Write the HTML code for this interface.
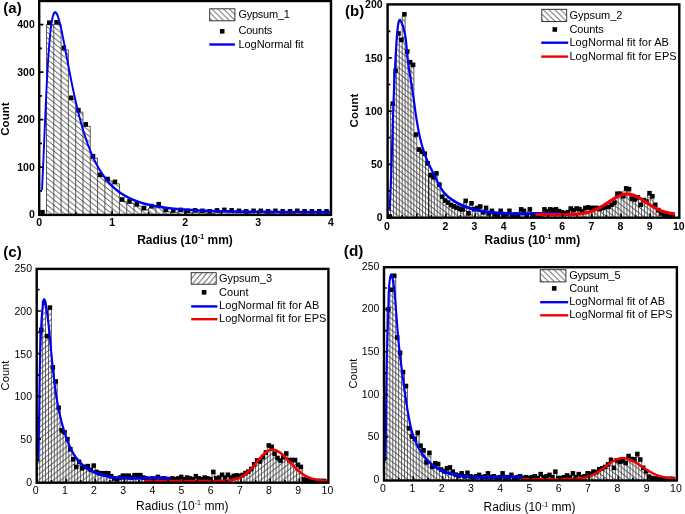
<!DOCTYPE html>
<html><head><meta charset="utf-8"><title>Chart</title>
<style>html,body{margin:0;padding:0;background:#fff;}body{width:685px;height:514px;overflow:hidden;font-family:"Liberation Sans",sans-serif;}svg text{font-family:"Liberation Sans",sans-serif;}</style></head><body>
<svg width="685" height="514" viewBox="0 0 685 514" style="display:block" font-family="Liberation Sans, sans-serif">
<defs>
<pattern id="hA" width="6.75" height="5.4" patternUnits="userSpaceOnUse"><path d="M-6.75 -5.4 L13.5 10.8 M-6.75 0 L6.75 10.8 M0 -5.4 L13.5 5.4" stroke="#222" stroke-width="0.85" fill="none"/></pattern>
<pattern id="hB" width="7.4" height="5.7" patternUnits="userSpaceOnUse"><path d="M-7.4 -5.7 L14.8 11.4 M-7.4 0 L7.4 11.4 M0 -5.7 L14.8 5.7" stroke="#1a1a1a" stroke-width="0.8" fill="none"/></pattern>
<pattern id="hC" width="7.4" height="5.8" patternUnits="userSpaceOnUse"><path d="M-7.4 11.6 L14.8 -5.8 M-7.4 5.8 L7.4 -5.8 M0 11.6 L14.8 0" stroke="#1a1a1a" stroke-width="0.8" fill="none"/></pattern>
<pattern id="lA" width="5.8" height="5.8" patternUnits="userSpaceOnUse"><path d="M-5.8 -5.8 L11.6 11.6 M-5.8 0 L5.8 11.6 M0 -5.8 L11.6 5.8" stroke="#1c1c1c" stroke-width="0.85" fill="none"/></pattern>
<pattern id="lC" width="5.4" height="6.4" patternUnits="userSpaceOnUse"><path d="M-5.4 12.8 L10.8 -6.4 M-5.4 6.4 L5.4 -6.4 M0 12.8 L10.8 0" stroke="#1c1c1c" stroke-width="0.85" fill="none"/></pattern>
</defs>
<rect width="685" height="514" fill="#fff"/>
<path d="M46.50 214.90 L46.50 24.70 L53.79 24.70 L53.79 24.22 L61.09 24.22 L61.09 49.88 L68.38 49.88 L68.38 99.75 L75.68 99.75 L75.68 112.10 L82.97 112.10 L82.97 126.35 L90.27 126.35 L90.27 158.18 L97.56 158.18 L97.56 176.70 L104.86 176.70 L104.86 180.97 L112.15 180.97 L112.15 183.82 L119.45 183.82 L119.45 201.40 L126.74 201.40 L126.74 203.30 L134.04 203.30 L134.04 206.15 L141.33 206.15 L141.33 209.95 L148.62 209.95 L148.62 208.05 L155.92 208.05 L155.92 206.15 L163.22 206.15 L163.22 211.85 L170.51 211.85 L170.51 212.32 L177.81 212.32 L177.81 211.85 L185.10 211.85 L185.10 212.80 L192.40 212.80 L192.40 212.32 L199.69 212.32 L199.69 212.80 L206.99 212.80 L206.99 213.28 L214.28 213.28 L214.28 212.32 L221.57 212.32 L221.57 211.85 L228.87 211.85 L228.87 212.32 L236.17 212.32 L236.17 212.80 L243.46 212.80 L243.46 213.28 L250.76 213.28 L250.76 212.80 L258.05 212.80 L258.05 212.80 L265.35 212.80 L265.35 213.28 L272.64 213.28 L272.64 212.80 L279.94 212.80 L279.94 213.28 L287.23 213.28 L287.23 213.28 L294.53 213.28 L294.53 212.80 L301.82 212.80 L301.82 213.28 L309.12 213.28 L309.12 213.28 L316.41 213.28 L316.41 213.28 L323.71 213.28 L323.71 213.28 L331.00 213.28 L331.00 214.90Z" fill="url(#hA)" stroke="none"/>
<path d="M46.50 214.90 V24.70 M53.79 214.90 V24.22 M61.09 214.90 V24.22 M68.38 214.90 V49.88 M75.68 214.90 V99.75 M82.97 214.90 V112.10 M90.27 214.90 V126.35 M97.56 214.90 V158.18 M104.86 214.90 V176.70 M112.15 214.90 V180.97 M119.45 214.90 V183.82 M126.74 214.90 V201.40 M134.04 214.90 V203.30 M141.33 214.90 V206.15 M148.62 214.90 V208.05 M155.92 214.90 V206.15 M163.22 214.90 V206.15 M170.51 214.90 V211.85 M177.81 214.90 V211.85 M185.10 214.90 V211.85 M192.40 214.90 V212.32 M199.69 214.90 V212.32 M206.99 214.90 V212.80 M214.28 214.90 V212.32 M221.57 214.90 V211.85 M228.87 214.90 V211.85 M236.17 214.90 V212.32 M243.46 214.90 V212.80 M250.76 214.90 V212.80 M258.05 214.90 V212.80 M265.35 214.90 V212.80 M272.64 214.90 V212.80 M279.94 214.90 V212.80 M287.23 214.90 V213.28 M294.53 214.90 V212.80 M301.82 214.90 V212.80 M309.12 214.90 V213.28 M316.41 214.90 V213.28 M323.71 214.90 V213.28 M331.00 214.90 V213.28 M46.50 24.70 H53.79 M53.79 24.22 H61.09 M61.09 49.88 H68.38 M68.38 99.75 H75.68 M75.68 112.10 H82.97 M82.97 126.35 H90.27 M90.27 158.18 H97.56 M97.56 176.70 H104.86 M104.86 180.97 H112.15 M112.15 183.82 H119.45 M119.45 201.40 H126.74 M126.74 203.30 H134.04 M134.04 206.15 H141.33 M141.33 209.95 H148.62 M148.62 208.05 H155.92 M155.92 206.15 H163.22 M163.22 211.85 H170.51 M170.51 212.32 H177.81 M177.81 211.85 H185.10 M185.10 212.80 H192.40 M192.40 212.32 H199.69 M199.69 212.80 H206.99 M206.99 213.28 H214.28 M214.28 212.32 H221.57 M221.57 211.85 H228.87 M228.87 212.32 H236.17 M236.17 212.80 H243.46 M243.46 213.28 H250.76 M250.76 212.80 H258.05 M258.05 212.80 H265.35 M265.35 213.28 H272.64 M272.64 212.80 H279.94 M279.94 213.28 H287.23 M287.23 213.28 H294.53 M294.53 212.80 H301.82 M301.82 213.28 H309.12 M309.12 213.28 H316.41 M316.41 213.28 H323.71 M323.71 213.28 H331.00" fill="none" stroke="#333" stroke-width="0.80"/>
<g fill="#000"><rect x="40.23" y="209.97" width="4.5" height="4.5"/><rect x="47.02" y="20.45" width="4.5" height="4.5"/><rect x="54.31" y="19.97" width="4.5" height="4.5"/><rect x="61.61" y="45.62" width="4.5" height="4.5"/><rect x="68.90" y="95.50" width="4.5" height="4.5"/><rect x="76.20" y="107.85" width="4.5" height="4.5"/><rect x="83.49" y="122.10" width="4.5" height="4.5"/><rect x="90.79" y="153.93" width="4.5" height="4.5"/><rect x="98.08" y="172.45" width="4.5" height="4.5"/><rect x="105.38" y="176.72" width="4.5" height="4.5"/><rect x="112.67" y="179.57" width="4.5" height="4.5"/><rect x="119.97" y="197.15" width="4.5" height="4.5"/><rect x="127.26" y="199.05" width="4.5" height="4.5"/><rect x="134.56" y="201.90" width="4.5" height="4.5"/><rect x="141.85" y="205.70" width="4.5" height="4.5"/><rect x="149.15" y="203.80" width="4.5" height="4.5"/><rect x="156.44" y="201.90" width="4.5" height="4.5"/><rect x="163.74" y="207.60" width="4.5" height="4.5"/><rect x="171.03" y="208.07" width="4.5" height="4.5"/><rect x="178.33" y="207.60" width="4.5" height="4.5"/><rect x="185.62" y="208.55" width="4.5" height="4.5"/><rect x="192.92" y="208.07" width="4.5" height="4.5"/><rect x="200.21" y="208.55" width="4.5" height="4.5"/><rect x="207.51" y="209.03" width="4.5" height="4.5"/><rect x="214.80" y="208.07" width="4.5" height="4.5"/><rect x="222.10" y="207.60" width="4.5" height="4.5"/><rect x="229.39" y="208.07" width="4.5" height="4.5"/><rect x="236.69" y="208.55" width="4.5" height="4.5"/><rect x="243.98" y="209.03" width="4.5" height="4.5"/><rect x="251.28" y="208.55" width="4.5" height="4.5"/><rect x="258.57" y="208.55" width="4.5" height="4.5"/><rect x="265.87" y="209.03" width="4.5" height="4.5"/><rect x="273.16" y="208.55" width="4.5" height="4.5"/><rect x="280.46" y="209.03" width="4.5" height="4.5"/><rect x="287.75" y="209.03" width="4.5" height="4.5"/><rect x="295.05" y="208.55" width="4.5" height="4.5"/><rect x="302.34" y="209.03" width="4.5" height="4.5"/><rect x="309.64" y="209.03" width="4.5" height="4.5"/><rect x="316.93" y="209.03" width="4.5" height="4.5"/><rect x="324.23" y="209.03" width="4.5" height="4.5"/></g>
<g transform="scale(1,1.3500)"><path d="M41.97 140.586 L42.33 135.612 L42.69 130.175 L43.05 124.375 L43.41 118.309 L43.77 112.069 L44.14 105.738 L44.50 99.387 L44.86 93.082 L45.22 86.876 L45.58 80.816 L45.94 74.938 L46.30 69.274 L46.67 63.846 L47.03 58.673 L47.39 53.768 L47.75 49.140 L48.11 44.793 L48.47 40.729 L48.84 36.949 L49.20 33.448 L49.56 30.222 L49.92 27.265 L50.28 24.570 L50.64 22.129 L51.00 19.933 L51.37 17.972 L51.73 16.237 L52.09 14.719 L52.45 13.406 L52.81 12.290 L53.17 11.360 L53.54 10.607 L53.90 10.020 L54.26 9.592 L54.62 9.312 L54.98 9.172 L55.34 9.164 L55.70 9.279 L56.07 9.509 L56.43 9.847 L56.79 10.286 L57.15 10.818 L57.51 11.438 L57.87 12.138 L58.24 12.914 L58.60 13.759 L58.96 14.668 L59.32 15.636 L59.68 16.657 L60.04 17.729 L60.40 18.845 L60.77 20.003 L61.13 21.198 L61.49 22.426 L61.85 23.685 L62.21 24.971 L62.57 26.280 L62.94 27.611 L63.30 28.961 L63.66 30.326 L64.02 31.706 L64.38 33.096 L64.74 34.496 L65.11 35.904 L65.47 37.318 L65.83 38.735 L66.19 40.155 L66.55 41.576 L66.91 42.996 L67.27 44.415 L67.64 45.832 L68.00 47.244 L68.36 48.652 L68.72 50.053 L69.08 51.448 L69.44 52.836 L69.81 54.215 L70.17 55.586 L70.53 56.947 L70.89 58.298 L71.25 59.639 L71.61 60.968 L71.97 62.286 L72.34 63.593 L72.70 64.887 L73.06 66.168 L73.42 67.437 L73.78 68.693 L74.14 69.935 L74.51 71.164 L74.87 72.380 L75.23 73.582 L75.59 74.770 L75.95 75.944 L76.31 77.104 L76.67 78.250 L77.04 79.382 L77.40 80.499 L77.76 81.603 L78.12 82.693 L78.48 83.768 L78.84 84.829 L79.21 85.877 L79.57 86.910 L79.93 87.929 L80.29 88.935 L80.65 89.927 L81.01 90.905 L81.38 91.869 L81.74 92.820 L82.10 93.758 L82.46 94.682 L82.82 95.593 L83.18 96.491 L83.54 97.376 L83.91 98.248 L84.27 99.108 L84.63 99.955 L84.99 100.790 L85.35 101.612 L85.71 102.422 L86.08 103.221 L86.44 104.007 L86.80 104.782 L87.16 105.545 L87.52 106.296 L87.88 107.037 L88.24 107.766 L88.61 108.484 L88.97 109.191 L89.33 109.888 L89.69 110.574 L90.05 111.250 L90.41 111.915 L90.78 112.570 L91.14 113.215 L91.50 113.851 L91.86 114.476 L92.22 115.092 L92.58 115.699 L92.94 116.296 L93.31 116.884 L93.67 117.463 L94.03 118.033 L94.39 118.595 L94.75 119.147 L95.11 119.692 L95.48 120.227 L95.84 120.755 L96.20 121.274 L96.56 121.786 L96.92 122.289 L97.28 122.785 L97.65 123.273 L98.01 123.754 L98.37 124.227 L98.73 124.693 L99.09 125.152 L99.45 125.604 L99.81 126.049 L100.18 126.487 L100.54 126.918 L100.90 127.342 L101.26 127.760 L101.62 128.172 L101.98 128.577 L102.35 128.976 L102.71 129.369 L103.07 129.756 L103.43 130.137 L103.79 130.513 L104.15 130.882 L104.51 131.246 L104.88 131.604 L105.24 131.957 L105.60 132.304 L105.96 132.647 L106.32 132.984 L106.68 133.315 L107.05 133.642 L107.41 133.964 L107.77 134.281 L108.13 134.593 L108.49 134.901 L108.85 135.203 L109.21 135.502 L109.58 135.795 L109.94 136.085 L110.30 136.370 L110.66 136.650 L111.02 136.927 L111.38 137.199 L111.75 137.467 L112.11 137.732 L112.47 137.992 L112.83 138.248 L113.19 138.501 L113.55 138.750 L113.92 138.995 L114.28 139.236 L114.64 139.474 L115.00 139.709 L115.36 139.940 L115.72 140.167 L116.08 140.391 L116.45 140.612 L116.81 140.830 L117.17 141.044 L117.53 141.256 L117.89 141.464 L118.25 141.669 L118.62 141.871 L118.98 142.070 L119.34 142.266 L119.70 142.460 L120.06 142.650 L120.42 142.838 L120.78 143.023 L121.15 143.206 L121.51 143.386 L121.87 143.563 L122.23 143.737 L122.59 143.910 L122.95 144.079 L123.32 144.246 L123.68 144.411 L124.04 144.574 L124.40 144.734 L124.76 144.892 L125.12 145.047 L125.48 145.201 L125.85 145.352 L126.21 145.501 L126.57 145.648 L126.93 145.793 L127.29 145.936 L127.65 146.076 L128.02 146.215 L128.38 146.352 L128.74 146.487 L129.10 146.620 L129.46 146.751 L129.82 146.881 L130.18 147.008 L130.55 147.134 L130.91 147.258 L131.27 147.380 L131.63 147.501 L131.99 147.620 L132.35 147.737 L132.72 147.853 L133.08 147.967 L133.44 148.080 L133.80 148.190 L134.16 148.300 L134.52 148.408 L134.89 148.514 L135.25 148.619 L135.61 148.723 L135.97 148.825 L136.33 148.926 L136.69 149.025 L137.05 149.123 L137.42 149.220 L137.78 149.315 L138.14 149.410 L138.50 149.502 L138.86 149.594 L139.22 149.684 L139.59 149.773 L139.95 149.861 L140.31 149.948 L140.67 150.034 L141.03 150.118 L141.39 150.202 L141.75 150.284 L142.12 150.365 L142.48 150.445 L142.84 150.524 L143.20 150.602 L143.56 150.679 L143.92 150.755 L144.29 150.830 L144.65 150.904 L145.01 150.977 L145.37 151.049 L145.73 151.120 L146.09 151.190 L146.45 151.259 L146.82 151.328 L147.18 151.395 L147.54 151.462 L147.90 151.527 L148.26 151.592 L148.62 151.656 L148.99 151.719 L149.35 151.782 L149.71 151.843 L150.07 151.904 L150.43 151.964 L150.79 152.023 L151.16 152.082 L151.52 152.140 L151.88 152.196 L152.24 152.253 L152.60 152.308 L152.96 152.363 L153.32 152.417 L153.69 152.471 L154.05 152.524 L154.41 152.576 L154.77 152.627 L155.13 152.678 L155.49 152.728 L155.86 152.778 L156.22 152.827 L156.58 152.875 L156.94 152.923 L157.30 152.970 L157.66 153.016 L158.02 153.062 L158.39 153.107 L158.75 153.152 L159.11 153.197 L159.47 153.240 L159.83 153.283 L160.19 153.326 L160.56 153.368 L160.92 153.410 L161.28 153.451 L161.64 153.491 L162.00 153.531 L162.36 153.571 L162.72 153.610 L163.09 153.649 L163.45 153.687 L163.81 153.725 L164.17 153.762 L164.53 153.799 L164.89 153.835 L165.26 153.871 L165.62 153.906 L165.98 153.941 L166.34 153.976 L166.70 154.010 L167.06 154.044 L167.43 154.077 L167.79 154.110 L168.15 154.143 L168.51 154.175 L168.87 154.207 L169.23 154.238 L169.59 154.269 L169.96 154.300 L170.32 154.331 L170.68 154.360 L171.04 154.390 L171.40 154.419 L171.76 154.448 L172.13 154.477 L172.49 154.505 L172.85 154.533 L173.21 154.561 L173.57 154.588 L173.93 154.615 L174.29 154.642 L174.66 154.668 L175.02 154.694 L175.38 154.720 L175.74 154.745 L176.10 154.770 L176.46 154.795 L176.83 154.820 L177.19 154.844 L177.55 154.868 L177.91 154.891 L178.27 154.915 L178.63 154.938 L178.99 154.961 L179.36 154.984 L179.72 155.006 L180.08 155.028 L180.44 155.050 L180.80 155.072 L181.16 155.093 L181.53 155.114 L181.89 155.135 L182.25 155.156 L182.61 155.176 L182.97 155.196 L183.33 155.216 L183.70 155.236 L184.06 155.256 L184.42 155.275 L184.78 155.294 L185.14 155.313 L185.50 155.331 L185.86 155.350 L186.23 155.368 L186.59 155.386 L186.95 155.404 L187.31 155.422 L187.67 155.439 L188.03 155.456 L188.40 155.473 L188.76 155.490 L189.12 155.507 L189.48 155.523 L189.84 155.540 L190.20 155.556 L190.56 155.572 L190.93 155.588 L191.29 155.603 L191.65 155.619 L192.01 155.634 L192.37 155.649 L192.73 155.664 L193.10 155.679 L193.46 155.694 L193.82 155.708 L194.18 155.722 L194.54 155.736 L194.90 155.750 L195.26 155.764 L195.63 155.778 L195.99 155.792 L196.35 155.805 L196.71 155.818 L197.07 155.831 L197.43 155.844 L197.80 155.857 L198.16 155.870 L198.52 155.882 L198.88 155.895 L199.24 155.907 L199.60 155.919 L199.97 155.931 L200.33 155.943 L200.69 155.955 L201.05 155.967 L201.41 155.978 L201.77 155.990 L202.13 156.001 L202.50 156.012 L202.86 156.023 L203.22 156.034 L203.58 156.045 L203.94 156.056 L204.30 156.066 L204.67 156.077 L205.03 156.087 L205.39 156.098 L205.75 156.108 L206.11 156.118 L206.47 156.128 L206.83 156.138 L207.20 156.147 L207.56 156.157 L207.92 156.167 L208.28 156.176 L208.64 156.185 L209.00 156.195 L209.37 156.204 L209.73 156.213 L210.09 156.222 L210.45 156.231 L210.81 156.239 L211.17 156.248 L211.53 156.257 L211.90 156.265 L212.26 156.274 L212.62 156.282 L212.98 156.290 L213.34 156.299 L213.70 156.307 L214.07 156.315 L214.43 156.323 L214.79 156.331 L215.15 156.338 L215.51 156.346 L215.87 156.354 L216.23 156.361 L216.60 156.369 L216.96 156.376 L217.32 156.383 L217.68 156.391 L218.04 156.398 L218.40 156.405 L218.77 156.412 L219.13 156.419 L219.49 156.426 L219.85 156.433 L220.21 156.439 L220.57 156.446 L220.94 156.453 L221.30 156.459 L221.66 156.466 L222.02 156.472 L222.38 156.479 L222.74 156.485 L223.10 156.491 L223.47 156.497 L223.83 156.503 L224.19 156.510 L224.55 156.516 L224.91 156.521 L225.27 156.527 L225.64 156.533 L226.00 156.539 L226.36 156.545 L226.72 156.550 L227.08 156.556 L227.44 156.562 L227.80 156.567 L228.17 156.572 L228.53 156.578 L228.89 156.583 L229.25 156.588 L229.61 156.594 L229.97 156.599 L230.34 156.604 L230.70 156.609 L231.06 156.614 L231.42 156.619 L231.78 156.624 L232.14 156.629 L232.50 156.634 L232.87 156.639 L233.23 156.643 L233.59 156.648 L233.95 156.653 L234.31 156.657 L234.67 156.662 L235.04 156.667 L235.40 156.671 L235.76 156.676 L236.12 156.680 L236.48 156.684 L236.84 156.689 L237.21 156.693 L237.57 156.697 L237.93 156.701 L238.29 156.706 L238.65 156.710 L239.01 156.714 L239.37 156.718 L239.74 156.722 L240.10 156.726 L240.46 156.730 L240.82 156.734 L241.18 156.738 L241.54 156.741 L241.91 156.745 L242.27 156.749 L242.63 156.753 L242.99 156.756 L243.35 156.760 L243.71 156.764 L244.07 156.767 L244.44 156.771 L244.80 156.774 L245.16 156.778 L245.52 156.781 L245.88 156.785 L246.24 156.788 L246.61 156.791 L246.97 156.795 L247.33 156.798 L247.69 156.801 L248.05 156.805 L248.41 156.808 L248.77 156.811 L249.14 156.814 L249.50 156.817 L249.86 156.820 L250.22 156.823 L250.58 156.826 L250.94 156.829 L251.31 156.832 L251.67 156.835 L252.03 156.838 L252.39 156.841 L252.75 156.844 L253.11 156.847 L253.48 156.850 L253.84 156.853 L254.20 156.855 L254.56 156.858 L254.92 156.861 L255.28 156.864 L255.64 156.866 L256.01 156.869 L256.37 156.872 L256.73 156.874 L257.09 156.877 L257.45 156.879 L257.81 156.882 L258.18 156.884 L258.54 156.887 L258.90 156.889 L259.26 156.892 L259.62 156.894 L259.98 156.897 L260.34 156.899 L260.71 156.901 L261.07 156.904 L261.43 156.906 L261.79 156.908 L262.15 156.911 L262.51 156.913 L262.88 156.915 L263.24 156.918 L263.60 156.920 L263.96 156.922 L264.32 156.924 L264.68 156.926 L265.04 156.928 L265.41 156.930 L265.77 156.933 L266.13 156.935 L266.49 156.937 L266.85 156.939 L267.21 156.941 L267.58 156.943 L267.94 156.945 L268.30 156.947 L268.66 156.949 L269.02 156.951 L269.38 156.953 L269.75 156.954 L270.11 156.956 L270.47 156.958 L270.83 156.960 L271.19 156.962 L271.55 156.964 L271.91 156.966 L272.28 156.967 L272.64 156.969 L273.00 156.971 L273.36 156.973 L273.72 156.974 L274.08 156.976 L274.45 156.978 L274.81 156.980 L275.17 156.981 L275.53 156.983 L275.89 156.985 L276.25 156.986 L276.61 156.988 L276.98 156.989 L277.34 156.991 L277.70 156.993 L278.06 156.994 L278.42 156.996 L278.78 156.997 L279.15 156.999 L279.51 157.000 L279.87 157.002 L280.23 157.003 L280.59 157.005 L280.95 157.006 L281.31 157.008 L281.68 157.009 L282.04 157.011 L282.40 157.012 L282.76 157.013 L283.12 157.015 L283.48 157.016 L283.85 157.018 L284.21 157.019 L284.57 157.020 L284.93 157.022 L285.29 157.023 L285.65 157.024 L286.01 157.026 L286.38 157.027 L286.74 157.028 L287.10 157.029 L287.46 157.031 L287.82 157.032 L288.18 157.033 L288.55 157.034 L288.91 157.036 L289.27 157.037 L289.63 157.038 L289.99 157.039 L290.35 157.040 L290.72 157.042 L291.08 157.043 L291.44 157.044 L291.80 157.045 L292.16 157.046 L292.52 157.047 L292.88 157.048 L293.25 157.050 L293.61 157.051 L293.97 157.052 L294.33 157.053 L294.69 157.054 L295.05 157.055 L295.42 157.056 L295.78 157.057 L296.14 157.058 L296.50 157.059 L296.86 157.060 L297.22 157.061 L297.58 157.062 L297.95 157.063 L298.31 157.064 L298.67 157.065 L299.03 157.066 L299.39 157.067 L299.75 157.068 L300.12 157.069 L300.48 157.070 L300.84 157.071 L301.20 157.072 L301.56 157.073 L301.92 157.074 L302.28 157.075 L302.65 157.076 L303.01 157.076 L303.37 157.077 L303.73 157.078 L304.09 157.079 L304.45 157.080 L304.82 157.081 L305.18 157.082 L305.54 157.082 L305.90 157.083 L306.26 157.084 L306.62 157.085 L306.99 157.086 L307.35 157.087 L307.71 157.087 L308.07 157.088 L308.43 157.089 L308.79 157.090 L309.15 157.091 L309.52 157.091 L309.88 157.092 L310.24 157.093 L310.60 157.094 L310.96 157.094 L311.32 157.095 L311.69 157.096 L312.05 157.097 L312.41 157.097 L312.77 157.098 L313.13 157.099 L313.49 157.100 L313.85 157.100 L314.22 157.101 L314.58 157.102 L314.94 157.102 L315.30 157.103 L315.66 157.104 L316.02 157.104 L316.39 157.105 L316.75 157.106 L317.11 157.106 L317.47 157.107 L317.83 157.108 L318.19 157.108 L318.55 157.109 L318.92 157.110 L319.28 157.110 L319.64 157.111 L320.00 157.112 L320.36 157.112 L320.72 157.113 L321.09 157.113 L321.45 157.114 L321.81 157.115 L322.17 157.115 L322.53 157.116 L322.89 157.116 L323.26 157.117 L323.62 157.117 L323.98 157.118 L324.34 157.119 L324.70 157.119 L325.06 157.120 L325.42 157.120 L325.79 157.121 L326.15 157.121 L326.51 157.122 L326.87 157.122 L327.23 157.123 L327.59 157.124 L327.96 157.124 L328.32 157.125 L328.68 157.125 L329.04 157.126 L329.40 157.126 L329.76 157.127 L330.12 157.127" fill="none" stroke="#0000f0" stroke-width="1.90" stroke-linejoin="round"/></g>
<rect x="39.20" y="1.00" width="291.80" height="213.90" fill="none" stroke="#000" stroke-width="2.4"/>
<path d="M112.15 214.90 v-4.2 M185.10 214.90 v-4.2 M258.05 214.90 v-4.2 M75.68 214.90 v-2.8 M148.62 214.90 v-2.8 M221.57 214.90 v-2.8 M294.53 214.90 v-2.8 M39.20 167.10 h4.2 M39.20 119.60 h4.2 M39.20 72.10 h4.2 M39.20 24.60 h4.2 M39.20 190.85 h2.8 M39.20 143.35 h2.8 M39.20 95.85 h2.8 M39.20 48.35 h2.8" stroke="#000" stroke-width="1.7" fill="none"/>
<path d="M387.60 217.70 L387.60 217.18 L390.52 217.18 L390.52 105.65 L393.44 105.65 L393.44 72.67 L396.35 72.67 L396.35 35.43 L399.27 35.43 L399.27 41.81 L402.19 41.81 L402.19 16.28 L405.11 16.28 L405.11 53.52 L408.03 53.52 L408.03 64.16 L410.94 64.16 L410.94 66.82 L413.86 66.82 L413.86 136.51 L416.78 136.51 L416.78 151.40 L419.70 151.40 L419.70 153.53 L422.62 153.53 L422.62 155.66 L425.53 155.66 L425.53 165.24 L428.45 165.24 L428.45 176.94 L431.37 176.94 L431.37 179.07 L434.29 179.07 L434.29 175.34 L437.21 175.34 L437.21 186.52 L440.12 186.52 L440.12 198.65 L443.04 198.65 L443.04 202.48 L445.96 202.48 L445.96 204.50 L448.88 204.50 L448.88 206.94 L451.80 206.94 L451.80 208.33 L454.71 208.33 L454.71 209.60 L457.63 209.60 L457.63 210.67 L460.55 210.67 L460.55 211.52 L463.47 211.52 L463.47 202.80 L466.39 202.80 L466.39 215.24 L469.30 215.24 L469.30 205.24 L472.22 205.24 L472.22 210.99 L475.14 210.99 L475.14 209.92 L478.06 209.92 L478.06 208.43 L480.98 208.43 L480.98 214.18 L483.89 214.18 L483.89 209.82 L486.81 209.82 L486.81 215.24 L489.73 215.24 L489.73 212.80 L492.65 212.80 L492.65 216.31 L495.57 216.31 L495.57 217.18 L498.48 217.18 L498.48 212.80 L501.40 212.80 L501.40 217.18 L504.32 217.18 L504.32 216.31 L507.24 216.31 L507.24 212.80 L510.16 212.80 L510.16 217.18 L513.07 217.18 L513.07 216.31 L515.99 216.31 L515.99 217.18 L518.91 217.18 L518.91 211.31 L521.83 211.31 L521.83 212.80 L524.75 212.80 L524.75 217.18 L527.66 217.18 L527.66 211.31 L530.58 211.31 L530.58 217.18 L533.50 217.18 L533.50 216.31 L536.42 216.31 L536.42 217.18 L539.34 217.18 L539.34 216.31 L542.25 216.31 L542.25 211.31 L545.17 211.31 L545.17 213.12 L548.09 213.12 L548.09 211.31 L551.01 211.31 L551.01 212.05 L553.93 212.05 L553.93 211.31 L556.84 211.31 L556.84 213.12 L559.76 213.12 L559.76 214.18 L562.68 214.18 L562.68 215.24 L565.60 215.24 L565.60 214.18 L568.52 214.18 L568.52 210.46 L571.43 210.46 L571.43 212.05 L574.35 212.05 L574.35 210.46 L577.27 210.46 L577.27 210.99 L580.19 210.99 L580.19 213.12 L583.11 213.12 L583.11 209.92 L586.02 209.92 L586.02 209.39 L588.94 209.39 L588.94 209.92 L591.86 209.92 L591.86 209.92 L594.78 209.92 L594.78 209.92 L597.70 209.92 L597.70 210.99 L600.61 210.99 L600.61 209.92 L603.53 209.92 L603.53 208.86 L606.45 208.86 L606.45 208.86 L609.37 208.86 L609.37 206.73 L612.29 206.73 L612.29 204.60 L615.20 204.60 L615.20 195.67 L618.12 195.67 L618.12 195.67 L621.04 195.67 L621.04 198.22 L623.96 198.22 L623.96 190.35 L626.88 190.35 L626.88 191.09 L629.79 191.09 L629.79 200.56 L632.71 200.56 L632.71 201.31 L635.63 201.31 L635.63 199.28 L638.55 199.28 L638.55 206.73 L641.47 206.73 L641.47 202.05 L644.38 202.05 L644.38 203.54 L647.30 203.54 L647.30 195.13 L650.22 195.13 L650.22 198.22 L653.14 198.22 L653.14 206.73 L656.06 206.73 L656.06 212.05 L658.97 212.05 L658.97 215.24 L661.89 215.24 L661.89 217.18 L664.81 217.18 L664.81 217.18 L667.73 217.18 L667.73 217.18 L670.65 217.18 L670.65 217.18 L673.56 217.18 L673.56 217.70Z" fill="url(#hB)" stroke="none"/>
<path d="M387.60 217.70 V217.18 M390.52 217.70 V105.65 M393.44 217.70 V72.67 M396.35 217.70 V35.43 M399.27 217.70 V35.43 M402.19 217.70 V16.28 M405.11 217.70 V16.28 M408.03 217.70 V53.52 M410.94 217.70 V64.16 M413.86 217.70 V66.82 M416.78 217.70 V136.51 M419.70 217.70 V151.40 M422.62 217.70 V153.53 M425.53 217.70 V155.66 M428.45 217.70 V165.24 M431.37 217.70 V176.94 M434.29 217.70 V175.34 M437.21 217.70 V175.34 M440.12 217.70 V186.52 M443.04 217.70 V198.65 M445.96 217.70 V202.48 M448.88 217.70 V204.50 M451.80 217.70 V206.94 M454.71 217.70 V208.33 M457.63 217.70 V209.60 M460.55 217.70 V210.67 M463.47 217.70 V202.80 M466.39 217.70 V202.80 M469.30 217.70 V205.24 M472.22 217.70 V205.24 M475.14 217.70 V209.92 M478.06 217.70 V208.43 M480.98 217.70 V208.43 M483.89 217.70 V209.82 M486.81 217.70 V209.82 M489.73 217.70 V212.80 M492.65 217.70 V212.80 M495.57 217.70 V216.31 M498.48 217.70 V212.80 M501.40 217.70 V212.80 M504.32 217.70 V216.31 M507.24 217.70 V212.80 M510.16 217.70 V212.80 M513.07 217.70 V216.31 M515.99 217.70 V216.31 M518.91 217.70 V211.31 M521.83 217.70 V211.31 M524.75 217.70 V212.80 M527.66 217.70 V211.31 M530.58 217.70 V211.31 M533.50 217.70 V216.31 M536.42 217.70 V216.31 M539.34 217.70 V216.31 M542.25 217.70 V211.31 M545.17 217.70 V211.31 M548.09 217.70 V211.31 M551.01 217.70 V211.31 M553.93 217.70 V211.31 M556.84 217.70 V211.31 M559.76 217.70 V213.12 M562.68 217.70 V214.18 M565.60 217.70 V214.18 M568.52 217.70 V210.46 M571.43 217.70 V210.46 M574.35 217.70 V210.46 M577.27 217.70 V210.46 M580.19 217.70 V210.99 M583.11 217.70 V209.92 M586.02 217.70 V209.39 M588.94 217.70 V209.39 M591.86 217.70 V209.92 M594.78 217.70 V209.92 M597.70 217.70 V209.92 M600.61 217.70 V209.92 M603.53 217.70 V208.86 M606.45 217.70 V208.86 M609.37 217.70 V206.73 M612.29 217.70 V204.60 M615.20 217.70 V195.67 M618.12 217.70 V195.67 M621.04 217.70 V195.67 M623.96 217.70 V190.35 M626.88 217.70 V190.35 M629.79 217.70 V191.09 M632.71 217.70 V200.56 M635.63 217.70 V199.28 M638.55 217.70 V199.28 M641.47 217.70 V202.05 M644.38 217.70 V202.05 M647.30 217.70 V195.13 M650.22 217.70 V195.13 M653.14 217.70 V198.22 M656.06 217.70 V206.73 M658.97 217.70 V212.05 M661.89 217.70 V215.24 M664.81 217.70 V217.18 M667.73 217.70 V217.18 M670.65 217.70 V217.18 M673.56 217.70 V217.18 M387.60 217.18 H390.52 M390.52 105.65 H393.44 M393.44 72.67 H396.35 M396.35 35.43 H399.27 M399.27 41.81 H402.19 M402.19 16.28 H405.11 M405.11 53.52 H408.03 M408.03 64.16 H410.94 M410.94 66.82 H413.86 M413.86 136.51 H416.78 M416.78 151.40 H419.70 M419.70 153.53 H422.62 M422.62 155.66 H425.53 M425.53 165.24 H428.45 M428.45 176.94 H431.37 M431.37 179.07 H434.29 M434.29 175.34 H437.21 M437.21 186.52 H440.12 M440.12 198.65 H443.04 M443.04 202.48 H445.96 M445.96 204.50 H448.88 M448.88 206.94 H451.80 M451.80 208.33 H454.71 M454.71 209.60 H457.63 M457.63 210.67 H460.55 M460.55 211.52 H463.47 M463.47 202.80 H466.39 M466.39 215.24 H469.30 M469.30 205.24 H472.22 M472.22 210.99 H475.14 M475.14 209.92 H478.06 M478.06 208.43 H480.98 M480.98 214.18 H483.89 M483.89 209.82 H486.81 M486.81 215.24 H489.73 M489.73 212.80 H492.65 M492.65 216.31 H495.57 M495.57 217.18 H498.48 M498.48 212.80 H501.40 M501.40 217.18 H504.32 M504.32 216.31 H507.24 M507.24 212.80 H510.16 M510.16 217.18 H513.07 M513.07 216.31 H515.99 M515.99 217.18 H518.91 M518.91 211.31 H521.83 M521.83 212.80 H524.75 M524.75 217.18 H527.66 M527.66 211.31 H530.58 M530.58 217.18 H533.50 M533.50 216.31 H536.42 M536.42 217.18 H539.34 M539.34 216.31 H542.25 M542.25 211.31 H545.17 M545.17 213.12 H548.09 M548.09 211.31 H551.01 M551.01 212.05 H553.93 M553.93 211.31 H556.84 M556.84 213.12 H559.76 M559.76 214.18 H562.68 M562.68 215.24 H565.60 M565.60 214.18 H568.52 M568.52 210.46 H571.43 M571.43 212.05 H574.35 M574.35 210.46 H577.27 M577.27 210.99 H580.19 M580.19 213.12 H583.11 M583.11 209.92 H586.02 M586.02 209.39 H588.94 M588.94 209.92 H591.86 M591.86 209.92 H594.78 M594.78 209.92 H597.70 M597.70 210.99 H600.61 M600.61 209.92 H603.53 M603.53 208.86 H606.45 M606.45 208.86 H609.37 M609.37 206.73 H612.29 M612.29 204.60 H615.20 M615.20 195.67 H618.12 M618.12 195.67 H621.04 M621.04 198.22 H623.96 M623.96 190.35 H626.88 M626.88 191.09 H629.79 M629.79 200.56 H632.71 M632.71 201.31 H635.63 M635.63 199.28 H638.55 M638.55 206.73 H641.47 M641.47 202.05 H644.38 M644.38 203.54 H647.30 M647.30 195.13 H650.22 M650.22 198.22 H653.14 M653.14 206.73 H656.06 M656.06 212.05 H658.97 M658.97 215.24 H661.89 M661.89 217.18 H664.81 M664.81 217.18 H667.73 M667.73 217.18 H670.65 M670.65 217.18 H673.56" fill="none" stroke="#333" stroke-width="0.78"/>
<path d="M428.8 174.5 V217" stroke="#111" stroke-width="1.1" fill="none"/>
<g fill="#000"><rect x="387.54" y="214.19" width="4.5" height="4.5"/><rect x="390.46" y="101.40" width="4.5" height="4.5"/><rect x="393.37" y="68.42" width="4.5" height="4.5"/><rect x="396.29" y="31.18" width="4.5" height="4.5"/><rect x="399.21" y="37.56" width="4.5" height="4.5"/><rect x="402.13" y="12.03" width="4.5" height="4.5"/><rect x="405.05" y="49.27" width="4.5" height="4.5"/><rect x="407.96" y="59.91" width="4.5" height="4.5"/><rect x="410.88" y="62.57" width="4.5" height="4.5"/><rect x="413.80" y="132.26" width="4.5" height="4.5"/><rect x="416.72" y="147.15" width="4.5" height="4.5"/><rect x="419.64" y="149.28" width="4.5" height="4.5"/><rect x="422.55" y="151.41" width="4.5" height="4.5"/><rect x="425.47" y="160.99" width="4.5" height="4.5"/><rect x="428.39" y="172.69" width="4.5" height="4.5"/><rect x="431.31" y="174.82" width="4.5" height="4.5"/><rect x="434.23" y="171.09" width="4.5" height="4.5"/><rect x="437.14" y="182.27" width="4.5" height="4.5"/><rect x="440.06" y="194.40" width="4.5" height="4.5"/><rect x="442.98" y="198.23" width="4.5" height="4.5"/><rect x="445.90" y="200.25" width="4.5" height="4.5"/><rect x="448.82" y="202.69" width="4.5" height="4.5"/><rect x="451.73" y="204.08" width="4.5" height="4.5"/><rect x="454.65" y="205.35" width="4.5" height="4.5"/><rect x="457.57" y="206.42" width="4.5" height="4.5"/><rect x="460.49" y="207.27" width="4.5" height="4.5"/><rect x="463.41" y="198.55" width="4.5" height="4.5"/><rect x="466.32" y="210.99" width="4.5" height="4.5"/><rect x="469.24" y="200.99" width="4.5" height="4.5"/><rect x="472.16" y="206.74" width="4.5" height="4.5"/><rect x="475.08" y="205.67" width="4.5" height="4.5"/><rect x="478.00" y="204.18" width="4.5" height="4.5"/><rect x="480.91" y="209.93" width="4.5" height="4.5"/><rect x="483.83" y="205.57" width="4.5" height="4.5"/><rect x="486.75" y="210.99" width="4.5" height="4.5"/><rect x="489.67" y="208.55" width="4.5" height="4.5"/><rect x="492.59" y="212.06" width="4.5" height="4.5"/><rect x="495.50" y="213.12" width="4.5" height="4.5"/><rect x="498.42" y="208.55" width="4.5" height="4.5"/><rect x="501.34" y="213.12" width="4.5" height="4.5"/><rect x="504.26" y="212.06" width="4.5" height="4.5"/><rect x="507.18" y="208.55" width="4.5" height="4.5"/><rect x="510.09" y="213.12" width="4.5" height="4.5"/><rect x="513.01" y="212.06" width="4.5" height="4.5"/><rect x="515.93" y="213.12" width="4.5" height="4.5"/><rect x="518.85" y="207.06" width="4.5" height="4.5"/><rect x="521.77" y="208.55" width="4.5" height="4.5"/><rect x="524.68" y="213.12" width="4.5" height="4.5"/><rect x="527.60" y="207.06" width="4.5" height="4.5"/><rect x="530.52" y="213.12" width="4.5" height="4.5"/><rect x="533.44" y="212.06" width="4.5" height="4.5"/><rect x="536.36" y="213.12" width="4.5" height="4.5"/><rect x="539.27" y="212.06" width="4.5" height="4.5"/><rect x="542.19" y="207.06" width="4.5" height="4.5"/><rect x="545.11" y="208.87" width="4.5" height="4.5"/><rect x="548.03" y="207.06" width="4.5" height="4.5"/><rect x="550.95" y="207.80" width="4.5" height="4.5"/><rect x="553.86" y="207.06" width="4.5" height="4.5"/><rect x="556.78" y="208.87" width="4.5" height="4.5"/><rect x="559.70" y="209.93" width="4.5" height="4.5"/><rect x="562.62" y="210.99" width="4.5" height="4.5"/><rect x="565.54" y="209.93" width="4.5" height="4.5"/><rect x="568.45" y="206.21" width="4.5" height="4.5"/><rect x="571.37" y="207.80" width="4.5" height="4.5"/><rect x="574.29" y="206.21" width="4.5" height="4.5"/><rect x="577.21" y="206.74" width="4.5" height="4.5"/><rect x="580.13" y="208.87" width="4.5" height="4.5"/><rect x="583.04" y="205.67" width="4.5" height="4.5"/><rect x="585.96" y="205.14" width="4.5" height="4.5"/><rect x="588.88" y="205.67" width="4.5" height="4.5"/><rect x="591.80" y="205.67" width="4.5" height="4.5"/><rect x="594.72" y="205.67" width="4.5" height="4.5"/><rect x="597.63" y="206.74" width="4.5" height="4.5"/><rect x="600.55" y="205.67" width="4.5" height="4.5"/><rect x="603.47" y="204.61" width="4.5" height="4.5"/><rect x="606.39" y="204.61" width="4.5" height="4.5"/><rect x="609.31" y="202.48" width="4.5" height="4.5"/><rect x="612.22" y="200.35" width="4.5" height="4.5"/><rect x="615.14" y="191.42" width="4.5" height="4.5"/><rect x="618.06" y="191.42" width="4.5" height="4.5"/><rect x="620.98" y="193.97" width="4.5" height="4.5"/><rect x="623.90" y="186.10" width="4.5" height="4.5"/><rect x="626.81" y="186.84" width="4.5" height="4.5"/><rect x="629.73" y="196.31" width="4.5" height="4.5"/><rect x="632.65" y="197.06" width="4.5" height="4.5"/><rect x="635.57" y="195.03" width="4.5" height="4.5"/><rect x="638.49" y="202.48" width="4.5" height="4.5"/><rect x="641.40" y="197.80" width="4.5" height="4.5"/><rect x="644.32" y="199.29" width="4.5" height="4.5"/><rect x="647.24" y="190.88" width="4.5" height="4.5"/><rect x="650.16" y="193.97" width="4.5" height="4.5"/><rect x="653.08" y="202.48" width="4.5" height="4.5"/><rect x="655.99" y="207.80" width="4.5" height="4.5"/><rect x="658.91" y="210.99" width="4.5" height="4.5"/><rect x="661.83" y="213.12" width="4.5" height="4.5"/><rect x="664.75" y="213.65" width="4.5" height="4.5"/><rect x="667.67" y="214.19" width="4.5" height="4.5"/><rect x="670.58" y="214.19" width="4.5" height="4.5"/></g>
<g transform="scale(1,1.3800)"><path d="M389.60 152.649 L389.64 152.050 L389.68 151.450 L389.73 150.851 L389.77 150.252 L389.81 149.653 L389.85 149.054 L389.89 148.456 L389.93 147.857 L389.97 147.259 L390.01 146.661 L390.05 146.063 L390.09 145.465 L390.13 144.868 L390.17 144.270 L390.21 143.673 L390.25 143.076 L390.28 142.479 L390.32 141.883 L390.36 141.286 L390.39 140.690 L390.43 140.093 L390.46 139.497 L390.50 138.901 L390.53 138.305 L390.57 137.709 L390.60 137.114 L390.64 136.518 L390.67 135.923 L390.71 135.328 L390.74 134.732 L390.77 134.137 L390.80 133.542 L390.84 132.948 L390.87 132.353 L390.90 131.758 L390.93 131.164 L390.96 130.569 L391.00 129.975 L391.03 129.381 L391.06 128.787 L391.09 128.193 L391.12 127.599 L391.15 127.005 L391.18 126.411 L391.21 125.817 L391.24 125.224 L391.27 124.630 L391.30 124.036 L391.32 123.443 L391.35 122.850 L391.38 122.256 L391.41 121.663 L391.44 121.070 L391.47 120.477 L391.49 119.883 L391.52 119.290 L391.55 118.697 L391.58 118.104 L391.60 117.511 L391.63 116.918 L391.66 116.325 L391.68 115.733 L391.71 115.140 L391.74 114.547 L391.76 113.954 L391.79 113.361 L391.82 112.768 L391.84 112.176 L391.87 111.583 L391.89 110.990 L391.92 110.397 L391.95 109.805 L391.97 109.212 L392.00 108.619 L392.02 108.026 L392.05 107.433 L392.08 106.841 L392.10 106.248 L392.13 105.655 L392.15 105.062 L392.18 104.469 L392.20 103.876 L392.23 103.283 L392.25 102.690 L392.28 102.097 L392.30 101.504 L392.33 100.911 L392.35 100.318 L392.38 99.725 L392.41 99.131 L392.43 98.538 L392.46 97.945 L392.48 97.351 L392.51 96.758 L392.53 96.164 L392.56 95.571 L392.58 94.977 L392.61 94.383 L392.64 93.789 L392.66 93.195 L392.69 92.601 L392.71 92.007 L392.74 91.413 L392.76 90.819 L392.79 90.224 L392.82 89.630 L392.84 89.035 L392.87 88.440 L392.90 87.846 L392.92 87.251 L392.95 86.656 L392.98 86.061 L393.00 85.465 L393.03 84.870 L393.06 84.275 L393.09 83.679 L393.11 83.083 L393.14 82.487 L393.17 81.891 L393.20 81.295 L393.23 80.699 L393.25 80.103 L393.28 79.506 L393.31 78.909 L393.34 78.313 L393.37 77.716 L393.40 77.118 L393.43 76.521 L393.46 75.924 L393.49 75.326 L393.52 74.728 L393.55 74.130 L393.58 73.532 L393.61 72.934 L393.64 72.335 L393.67 71.736 L393.71 71.138 L393.74 70.539 L393.77 69.939 L393.80 69.340 L393.83 68.740 L393.87 68.140 L393.90 67.540 L393.93 66.940 L393.97 66.340 L394.00 65.739 L394.04 65.138 L394.07 64.537 L394.11 63.936 L394.14 63.334 L394.18 62.732 L394.21 62.131 L394.25 61.528 L394.29 60.926 L394.32 60.324 L394.36 59.721 L394.40 59.119 L394.43 58.516 L394.47 57.914 L394.51 57.312 L394.55 56.710 L394.59 56.109 L394.63 55.508 L394.67 54.907 L394.71 54.307 L394.75 53.707 L394.79 53.108 L394.83 52.510 L394.87 51.912 L394.91 51.315 L394.95 50.719 L394.99 50.124 L395.03 49.530 L395.07 48.937 L395.11 48.345 L395.15 47.754 L395.20 47.165 L395.24 46.576 L395.28 45.989 L395.32 45.404 L395.36 44.819 L395.41 44.237 L395.45 43.656 L395.49 43.076 L395.53 42.498 L395.58 41.922 L395.62 41.348 L395.66 40.775 L395.71 40.205 L395.75 39.636 L395.79 39.070 L395.83 38.505 L395.88 37.943 L395.92 37.383 L395.96 36.825 L396.01 36.269 L396.05 35.716 L396.09 35.165 L396.14 34.614 L396.18 34.062 L396.22 33.510 L396.27 32.954 L396.32 32.395 L396.37 31.832 L396.42 31.262 L396.47 30.686 L396.53 30.102 L396.58 29.509 L396.64 28.906 L396.71 28.292 L396.77 27.666 L396.84 27.027 L396.92 26.373 L396.99 25.704 L397.07 25.019 L397.16 24.317 L397.25 23.596 L397.34 22.856 L397.44 22.096 L397.55 21.322 L397.66 20.545 L397.78 19.774 L397.91 19.021 L398.05 18.295 L398.20 17.606 L398.36 16.965 L398.53 16.382 L398.71 15.867 L398.91 15.429 L399.13 15.081 L399.36 14.830 L399.60 14.689 L399.87 14.665 L400.15 14.760 L400.44 14.963 L400.75 15.265 L401.06 15.656 L401.39 16.127 L401.71 16.668 L402.04 17.269 L402.37 17.921 L402.69 18.614 L403.00 19.339 L403.31 20.086 L403.61 20.845 L403.89 21.606 L404.16 22.361 L404.41 23.100 L404.64 23.819 L404.85 24.519 L405.04 25.202 L405.22 25.868 L405.38 26.519 L405.53 27.155 L405.66 27.779 L405.78 28.390 L405.90 28.990 L406.00 29.580 L406.09 30.162 L406.18 30.735 L406.25 31.302 L406.32 31.864 L406.39 32.421 L406.45 32.975 L406.51 33.526 L406.57 34.076 L406.63 34.627 L406.68 35.178 L406.74 35.731 L406.80 36.288 L406.86 36.848 L406.93 37.412 L406.99 37.979 L407.06 38.550 L407.14 39.123 L407.21 39.699 L407.29 40.277 L407.37 40.858 L407.45 41.440 L407.54 42.025 L407.63 42.611 L407.72 43.199 L407.81 43.788 L407.91 44.378 L408.01 44.968 L408.11 45.560 L408.21 46.152 L408.32 46.744 L408.43 47.336 L408.55 47.928 L408.66 48.520 L408.78 49.111 L408.90 49.701 L409.03 50.291 L409.15 50.880 L409.28 51.468 L409.41 52.056 L409.55 52.644 L409.68 53.231 L409.82 53.818 L409.95 54.405 L410.09 54.991 L410.23 55.578 L410.37 56.164 L410.50 56.750 L410.64 57.336 L410.78 57.922 L410.92 58.508 L411.06 59.095 L411.20 59.681 L411.33 60.268 L411.47 60.855 L411.60 61.442 L411.73 62.030 L411.86 62.618 L411.99 63.207 L412.12 63.796 L412.25 64.385 L412.37 64.975 L412.49 65.566 L412.61 66.156 L412.73 66.747 L412.85 67.338 L412.97 67.930 L413.09 68.522 L413.20 69.114 L413.32 69.706 L413.43 70.299 L413.54 70.891 L413.66 71.484 L413.77 72.077 L413.88 72.670 L413.99 73.264 L414.10 73.857 L414.22 74.450 L414.33 75.044 L414.44 75.637 L414.55 76.231 L414.66 76.824 L414.77 77.418 L414.88 78.011 L414.99 78.605 L415.11 79.198 L415.22 79.791 L415.33 80.384 L415.45 80.977 L415.56 81.570 L415.68 82.163 L415.80 82.755 L415.92 83.347 L416.04 83.939 L416.16 84.531 L416.28 85.122 L416.40 85.713 L416.53 86.304 L416.65 86.894 L416.78 87.484 L416.91 88.074 L417.04 88.663 L417.18 89.252 L417.31 89.841 L417.45 90.429 L417.59 91.016 L417.73 91.603 L417.88 92.189 L418.02 92.775 L418.17 93.361 L418.32 93.945 L418.48 94.530 L418.64 95.113 L418.80 95.696 L418.96 96.278 L419.12 96.860 L419.29 97.441 L419.47 98.021 L419.64 98.600 L419.82 99.179 L420.00 99.757 L420.19 100.334 L420.38 100.910 L420.57 101.486 L420.77 102.060 L420.97 102.634 L421.17 103.207 L421.38 103.779 L421.59 104.350 L421.81 104.920 L422.03 105.489 L422.25 106.057 L422.48 106.624 L422.72 107.190 L422.95 107.755 L423.20 108.319 L423.45 108.881 L423.70 109.443 L423.96 110.004 L424.22 110.563 L424.49 111.121 L424.76 111.678 L425.04 112.234 L425.32 112.789 L425.61 113.342 L425.90 113.894 L426.20 114.445 L426.51 114.994 L426.82 115.542 L427.13 116.089 L427.45 116.635 L427.78 117.180 L428.11 117.724 L428.44 118.267 L428.78 118.809 L429.12 119.350 L429.47 119.890 L429.82 120.430 L430.17 120.969 L430.53 121.507 L430.88 122.044 L431.24 122.581 L431.61 123.118 L431.97 123.654 L432.34 124.190 L432.71 124.725 L433.08 125.261 L433.45 125.796 L433.82 126.330 L434.19 126.865 L434.56 127.400 L434.94 127.935 L435.31 128.469 L435.68 129.004 L436.06 129.539 L436.43 130.075 L436.80 130.610 L437.17 131.146 L437.54 131.682 L437.91 132.219 L438.28 132.755 L438.65 133.290 L439.02 133.823 L439.40 134.353 L439.79 134.880 L440.18 135.403 L440.58 135.921 L440.99 136.434 L441.42 136.941 L441.86 137.440 L442.31 137.932 L442.78 138.416 L443.27 138.891 L443.77 139.356 L444.30 139.811 L444.84 140.256 L445.40 140.692 L445.97 141.118 L446.56 141.535 L447.17 141.943 L447.78 142.341 L448.41 142.731 L449.04 143.113 L449.69 143.485 L450.34 143.850 L451.00 144.206 L451.67 144.554 L452.34 144.894 L453.02 145.226 L453.70 145.551 L454.39 145.867 L455.09 146.176 L455.79 146.478 L456.50 146.772 L457.21 147.059 L457.92 147.338 L458.64 147.610 L459.37 147.876 L460.10 148.134 L460.84 148.386 L461.58 148.631 L462.32 148.869 L463.07 149.101 L463.82 149.327 L464.58 149.546 L465.34 149.759 L466.11 149.966 L466.88 150.166 L467.65 150.361 L468.42 150.550 L469.20 150.734 L469.99 150.911 L470.77 151.083 L471.56 151.250 L472.35 151.412 L473.14 151.568 L473.94 151.719 L474.74 151.865 L475.54 152.006 L476.34 152.142 L477.15 152.274 L477.96 152.401 L478.77 152.524 L479.58 152.642 L480.39 152.755 L481.21 152.865 L482.03 152.970 L482.84 153.071 L483.66 153.169 L484.48 153.262 L485.30 153.352 L486.13 153.439 L486.95 153.521 L487.77 153.601 L488.60 153.677 L489.42 153.749 L490.24 153.819 L491.07 153.885 L491.89 153.949 L492.72 154.010 L493.54 154.068 L494.37 154.123 L495.19 154.176 L496.01 154.227 L496.84 154.275 L497.66 154.320 L498.48 154.364 L499.30 154.405 L500.12 154.443 L500.95 154.480 L501.77 154.514 L502.59 154.547 L503.41 154.577 L504.23 154.606 L505.05 154.632 L505.87 154.657 L506.69 154.680 L507.50 154.701 L508.32 154.720 L509.14 154.738 L509.96 154.754 L510.78 154.769 L511.60 154.782 L512.41 154.794 L513.23 154.804 L514.05 154.813 L514.87 154.821 L515.68 154.827 L516.50 154.832 L517.32 154.836 L518.14 154.839 L518.95 154.841 L519.77 154.843 L520.59 154.843 L521.40 154.842 L522.22 154.840 L523.04 154.838 L523.85 154.835 L524.67 154.831 L525.49 154.827 L526.31 154.822 L527.12 154.817 L527.94 154.811 L528.76 154.805 L529.57 154.798 L530.39 154.791 L531.21 154.784 L532.03 154.777 L532.85 154.770 L533.66 154.762 L534.48 154.755 L535.30 154.747 L536.12 154.740 L536.94 154.732 L537.76 154.725 L538.58 154.718 L539.40 154.712 L540.22 154.705 L541.04 154.700 L541.86 154.694 L542.68 154.689 L543.50 154.685 L544.32 154.681 L545.14 154.678 L545.97 154.675 L546.79 154.673 L547.61 154.672 L548.44 154.672 L549.26 154.673 L550.08 154.675 L550.91 154.677 L551.73 154.681 L552.56 154.686 L553.39 154.692 L554.21 154.700 L555.04 154.708 L555.87 154.718 L556.69 154.729 L557.52 154.742 L558.35 154.756 L559.18 154.772 L560.01 154.789" fill="none" stroke="#0000f0" stroke-width="2.15" stroke-linejoin="round"/></g>
<path d="M535.54 214.63 L536.01 214.63 L536.48 214.63 L536.94 214.63 L537.41 214.63 L537.88 214.63 L538.34 214.63 L538.81 214.63 L539.27 214.63 L539.74 214.63 L540.21 214.63 L540.67 214.63 L541.14 214.63 L541.61 214.63 L542.07 214.63 L542.54 214.63 L543.01 214.63 L543.47 214.63 L543.94 214.63 L544.41 214.63 L544.87 214.63 L545.34 214.63 L545.81 214.63 L546.27 214.63 L546.74 214.63 L547.20 214.63 L547.67 214.62 L548.14 214.62 L548.60 214.62 L549.07 214.62 L549.54 214.62 L550.00 214.62 L550.47 214.62 L550.94 214.62 L551.40 214.62 L551.87 214.62 L552.34 214.62 L552.80 214.62 L553.27 214.62 L553.74 214.62 L554.20 214.62 L554.67 214.62 L555.14 214.62 L555.60 214.61 L556.07 214.61 L556.53 214.61 L557.00 214.61 L557.47 214.61 L557.93 214.61 L558.40 214.60 L558.87 214.60 L559.33 214.60 L559.80 214.60 L560.27 214.59 L560.73 214.59 L561.20 214.59 L561.67 214.58 L562.13 214.58 L562.60 214.58 L563.07 214.57 L563.53 214.57 L564.00 214.56 L564.46 214.55 L564.93 214.55 L565.40 214.54 L565.86 214.53 L566.33 214.53 L566.80 214.52 L567.26 214.51 L567.73 214.50 L568.20 214.49 L568.66 214.48 L569.13 214.46 L569.60 214.45 L570.06 214.44 L570.53 214.42 L571.00 214.40 L571.46 214.39 L571.93 214.37 L572.40 214.35 L572.86 214.33 L573.33 214.31 L573.79 214.28 L574.26 214.26 L574.73 214.23 L575.19 214.20 L575.66 214.17 L576.13 214.14 L576.59 214.10 L577.06 214.07 L577.53 214.03 L577.99 213.99 L578.46 213.94 L578.93 213.90 L579.39 213.85 L579.86 213.80 L580.33 213.74 L580.79 213.69 L581.26 213.63 L581.73 213.56 L582.19 213.50 L582.66 213.43 L583.12 213.35 L583.59 213.28 L584.06 213.20 L584.52 213.11 L584.99 213.02 L585.46 212.93 L585.92 212.84 L586.39 212.73 L586.86 212.63 L587.32 212.52 L587.79 212.40 L588.26 212.28 L588.72 212.16 L589.19 212.03 L589.66 211.90 L590.12 211.76 L590.59 211.61 L591.05 211.46 L591.52 211.31 L591.99 211.14 L592.45 210.98 L592.92 210.81 L593.39 210.63 L593.85 210.44 L594.32 210.25 L594.79 210.06 L595.25 209.86 L595.72 209.65 L596.19 209.44 L596.65 209.22 L597.12 209.00 L597.59 208.77 L598.05 208.54 L598.52 208.30 L598.99 208.05 L599.45 207.80 L599.92 207.54 L600.38 207.28 L600.85 207.02 L601.32 206.75 L601.78 206.47 L602.25 206.20 L602.72 205.91 L603.18 205.63 L603.65 205.33 L604.12 205.04 L604.58 204.74 L605.05 204.44 L605.52 204.14 L605.98 203.84 L606.45 203.53 L606.92 203.22 L607.38 202.91 L607.85 202.60 L608.31 202.29 L608.78 201.98 L609.25 201.67 L609.71 201.36 L610.18 201.05 L610.65 200.74 L611.11 200.44 L611.58 200.13 L612.05 199.83 L612.51 199.53 L612.98 199.24 L613.45 198.95 L613.91 198.66 L614.38 198.38 L614.85 198.11 L615.31 197.84 L615.78 197.58 L616.25 197.32 L616.71 197.07 L617.18 196.83 L617.64 196.60 L618.11 196.37 L618.58 196.15 L619.04 195.95 L619.51 195.75 L619.98 195.56 L620.44 195.38 L620.91 195.21 L621.38 195.06 L621.84 194.91 L622.31 194.78 L622.78 194.65 L623.24 194.54 L623.71 194.44 L624.18 194.35 L624.64 194.28 L625.11 194.22 L625.58 194.17 L626.04 194.13 L626.51 194.10 L626.97 194.09 L627.44 194.09 L627.91 194.11 L628.37 194.13 L628.84 194.17 L629.31 194.23 L629.77 194.29 L630.24 194.37 L630.71 194.46 L631.17 194.56 L631.64 194.67 L632.11 194.80 L632.57 194.93 L633.04 195.08 L633.51 195.24 L633.97 195.41 L634.44 195.59 L634.90 195.78 L635.37 195.98 L635.84 196.19 L636.30 196.41 L636.77 196.64 L637.24 196.87 L637.70 197.11 L638.17 197.36 L638.64 197.62 L639.10 197.89 L639.57 198.16 L640.04 198.43 L640.50 198.71 L640.97 199.00 L641.44 199.29 L641.90 199.58 L642.37 199.88 L642.84 200.18 L643.30 200.49 L643.77 200.79 L644.23 201.10 L644.70 201.41 L645.17 201.72 L645.63 202.03 L646.10 202.34 L646.57 202.65 L647.03 202.96 L647.50 203.27 L647.97 203.58 L648.43 203.89 L648.90 204.19 L649.37 204.50 L649.83 204.79 L650.30 205.09 L650.77 205.38 L651.23 205.67 L651.70 205.96 L652.17 206.24 L652.63 206.52 L653.10 206.80 L653.56 207.06 L654.03 207.33 L654.50 207.59 L654.96 207.84 L655.43 208.09 L655.90 208.34 L656.36 208.58 L656.83 208.81 L657.30 209.04 L657.76 209.26 L658.23 209.48 L658.70 209.69 L659.16 209.89 L659.63 210.09 L660.10 210.29 L660.56 210.48 L661.03 210.66 L661.49 210.84 L661.96 211.01 L662.43 211.17 L662.89 211.33 L663.36 211.49 L663.83 211.64 L664.29 211.78 L664.76 211.92 L665.23 212.05 L665.69 212.18 L666.16 212.31 L666.63 212.42 L667.09 212.54 L667.56 212.65 L668.03 212.75 L668.49 212.85 L668.96 212.95 L669.43 213.04 L669.89 213.13 L670.36 213.21 L670.82 213.29 L671.29 213.37 L671.76 213.44 L672.22 213.51 L672.69 213.57 L673.16 213.64 L673.62 213.70 L674.09 213.75 L674.56 213.81 L675.02 213.86" fill="none" stroke="#f00000" stroke-width="3.2" stroke-linejoin="round"/>
<rect x="387.60" y="4.40" width="291.70" height="213.30" fill="none" stroke="#000" stroke-width="2.4"/>
<path d="M416.78 217.70 v-4.2 M445.96 217.70 v-4.2 M475.14 217.70 v-4.2 M504.32 217.70 v-4.2 M533.50 217.70 v-4.2 M562.68 217.70 v-4.2 M591.86 217.70 v-4.2 M621.04 217.70 v-4.2 M650.22 217.70 v-4.2 M402.19 217.70 v-2.8 M431.37 217.70 v-2.8 M460.55 217.70 v-2.8 M489.73 217.70 v-2.8 M518.91 217.70 v-2.8 M548.09 217.70 v-2.8 M577.27 217.70 v-2.8 M606.45 217.70 v-2.8 M635.63 217.70 v-2.8 M664.81 217.70 v-2.8 M387.60 164.30 h4.2 M387.60 111.10 h4.2 M387.60 57.90 h4.2 M387.60 190.90 h2.8 M387.60 137.70 h2.8 M387.60 84.50 h2.8 M387.60 31.30 h2.8" stroke="#000" stroke-width="1.7" fill="none"/>
<path d="M36.80 482.70 L36.80 432.56 L39.72 432.56 L39.72 331.79 L42.64 331.79 L42.64 304.89 L45.55 304.89 L45.55 338.02 L48.47 338.02 L48.47 309.58 L51.39 309.58 L51.39 369.36 L54.31 369.36 L54.31 383.37 L57.23 383.37 L57.23 409.67 L60.14 409.67 L60.14 432.30 L63.06 432.30 L63.06 434.27 L65.98 434.27 L65.98 441.10 L68.90 441.10 L68.90 451.18 L71.82 451.18 L71.82 461.25 L74.73 461.25 L74.73 468.86 L77.65 468.86 L77.65 463.82 L80.57 463.82 L80.57 470.14 L83.49 470.14 L83.49 468.86 L86.41 468.86 L86.41 468.09 L89.32 468.09 L89.32 471.84 L92.24 471.84 L92.24 467.57 L95.16 467.57 L95.16 473.89 L98.08 473.89 L98.08 475.09 L101.00 475.09 L101.00 475.26 L103.91 475.26 L103.91 475.09 L106.83 475.09 L106.83 475.26 L109.75 475.26 L109.75 478.16 L112.67 478.16 L112.67 480.38 L115.59 480.38 L115.59 481.24 L118.50 481.24 L118.50 479.53 L121.42 479.53 L121.42 477.65 L124.34 477.65 L124.34 477.82 L127.26 477.82 L127.26 477.65 L130.18 477.65 L130.18 479.53 L133.09 479.53 L133.09 477.14 L136.01 477.14 L136.01 477.14 L138.93 477.14 L138.93 477.14 L141.85 477.14 L141.85 479.53 L144.77 479.53 L144.77 480.38 L147.68 480.38 L147.68 481.24 L150.60 481.24 L150.60 480.38 L153.52 480.38 L153.52 481.24 L156.44 481.24 L156.44 478.93 L159.36 478.93 L159.36 481.24 L162.27 481.24 L162.27 480.38 L165.19 480.38 L165.19 481.24 L168.11 481.24 L168.11 481.54 L171.03 481.54 L171.03 480.38 L173.95 480.38 L173.95 481.24 L176.86 481.24 L176.86 480.38 L179.78 480.38 L179.78 478.93 L182.70 478.93 L182.70 481.24 L185.62 481.24 L185.62 479.53 L188.54 479.53 L188.54 480.38 L191.45 480.38 L191.45 481.24 L194.37 481.24 L194.37 478.16 L197.29 478.16 L197.29 480.38 L200.21 480.38 L200.21 481.24 L203.13 481.24 L203.13 479.53 L206.04 479.53 L206.04 480.38 L208.96 480.38 L208.96 481.24 L211.88 481.24 L211.88 473.89 L214.80 473.89 L214.80 480.38 L217.72 480.38 L217.72 479.53 L220.63 479.53 L220.63 476.71 L223.55 476.71 L223.55 479.53 L226.47 479.53 L226.47 476.71 L229.39 476.71 L229.39 479.53 L232.31 479.53 L232.31 477.82 L235.22 477.82 L235.22 477.40 L238.14 477.40 L238.14 477.82 L241.06 477.82 L241.06 476.97 L243.98 476.97 L243.98 475.09 L246.90 475.09 L246.90 473.55 L249.81 473.55 L249.81 470.99 L252.73 470.99 L252.73 466.29 L255.65 466.29 L255.65 462.45 L258.57 462.45 L258.57 463.30 L261.49 463.30 L261.49 459.03 L264.40 459.03 L264.40 454.42 L267.32 454.42 L267.32 447.42 L270.24 447.42 L270.24 448.79 L273.16 448.79 L273.16 455.62 L276.08 455.62 L276.08 459.89 L278.99 459.89 L278.99 462.45 L281.91 462.45 L281.91 459.03 L284.83 459.03 L284.83 455.45 L287.75 455.45 L287.75 462.02 L290.67 462.02 L290.67 462.02 L293.58 462.02 L293.58 462.02 L296.50 462.02 L296.50 466.72 L299.42 466.72 L299.42 468.86 L302.34 468.86 L302.34 481.41 L305.26 481.41 L305.26 481.54 L308.17 481.54 L308.17 481.54 L311.09 481.54 L311.09 481.54 L314.01 481.54 L314.01 481.54 L316.93 481.54 L316.93 481.54 L319.85 481.54 L319.85 481.54 L322.76 481.54 L322.76 481.54 L325.68 481.54 L325.68 482.70Z" fill="url(#hC)" stroke="none"/>
<path d="M36.80 482.70 V432.56 M39.72 482.70 V331.79 M42.64 482.70 V304.89 M45.55 482.70 V304.89 M48.47 482.70 V309.58 M51.39 482.70 V309.58 M54.31 482.70 V369.36 M57.23 482.70 V383.37 M60.14 482.70 V409.67 M63.06 482.70 V432.30 M65.98 482.70 V434.27 M68.90 482.70 V441.10 M71.82 482.70 V451.18 M74.73 482.70 V461.25 M77.65 482.70 V463.82 M80.57 482.70 V463.82 M83.49 482.70 V468.86 M86.41 482.70 V468.09 M89.32 482.70 V468.09 M92.24 482.70 V467.57 M95.16 482.70 V467.57 M98.08 482.70 V473.89 M101.00 482.70 V475.09 M103.91 482.70 V475.09 M106.83 482.70 V475.09 M109.75 482.70 V475.26 M112.67 482.70 V478.16 M115.59 482.70 V480.38 M118.50 482.70 V479.53 M121.42 482.70 V477.65 M124.34 482.70 V477.65 M127.26 482.70 V477.65 M130.18 482.70 V477.65 M133.09 482.70 V477.14 M136.01 482.70 V477.14 M138.93 482.70 V477.14 M141.85 482.70 V477.14 M144.77 482.70 V479.53 M147.68 482.70 V480.38 M150.60 482.70 V480.38 M153.52 482.70 V480.38 M156.44 482.70 V478.93 M159.36 482.70 V478.93 M162.27 482.70 V480.38 M165.19 482.70 V480.38 M168.11 482.70 V481.24 M171.03 482.70 V480.38 M173.95 482.70 V480.38 M176.86 482.70 V480.38 M179.78 482.70 V478.93 M182.70 482.70 V478.93 M185.62 482.70 V479.53 M188.54 482.70 V479.53 M191.45 482.70 V480.38 M194.37 482.70 V478.16 M197.29 482.70 V478.16 M200.21 482.70 V480.38 M203.13 482.70 V479.53 M206.04 482.70 V479.53 M208.96 482.70 V480.38 M211.88 482.70 V473.89 M214.80 482.70 V473.89 M217.72 482.70 V479.53 M220.63 482.70 V476.71 M223.55 482.70 V476.71 M226.47 482.70 V476.71 M229.39 482.70 V476.71 M232.31 482.70 V477.82 M235.22 482.70 V477.40 M238.14 482.70 V477.40 M241.06 482.70 V476.97 M243.98 482.70 V475.09 M246.90 482.70 V473.55 M249.81 482.70 V470.99 M252.73 482.70 V466.29 M255.65 482.70 V462.45 M258.57 482.70 V462.45 M261.49 482.70 V459.03 M264.40 482.70 V454.42 M267.32 482.70 V447.42 M270.24 482.70 V447.42 M273.16 482.70 V448.79 M276.08 482.70 V455.62 M278.99 482.70 V459.89 M281.91 482.70 V459.03 M284.83 482.70 V455.45 M287.75 482.70 V455.45 M290.67 482.70 V462.02 M293.58 482.70 V462.02 M296.50 482.70 V462.02 M299.42 482.70 V466.72 M302.34 482.70 V468.86 M305.26 482.70 V481.41 M308.17 482.70 V481.54 M311.09 482.70 V481.54 M314.01 482.70 V481.54 M316.93 482.70 V481.54 M319.85 482.70 V481.54 M322.76 482.70 V481.54 M325.68 482.70 V481.54 M36.80 432.56 H39.72 M39.72 331.79 H42.64 M42.64 304.89 H45.55 M45.55 338.02 H48.47 M48.47 309.58 H51.39 M51.39 369.36 H54.31 M54.31 383.37 H57.23 M57.23 409.67 H60.14 M60.14 432.30 H63.06 M63.06 434.27 H65.98 M65.98 441.10 H68.90 M68.90 451.18 H71.82 M71.82 461.25 H74.73 M74.73 468.86 H77.65 M77.65 463.82 H80.57 M80.57 470.14 H83.49 M83.49 468.86 H86.41 M86.41 468.09 H89.32 M89.32 471.84 H92.24 M92.24 467.57 H95.16 M95.16 473.89 H98.08 M98.08 475.09 H101.00 M101.00 475.26 H103.91 M103.91 475.09 H106.83 M106.83 475.26 H109.75 M109.75 478.16 H112.67 M112.67 480.38 H115.59 M115.59 481.24 H118.50 M118.50 479.53 H121.42 M121.42 477.65 H124.34 M124.34 477.82 H127.26 M127.26 477.65 H130.18 M130.18 479.53 H133.09 M133.09 477.14 H136.01 M136.01 477.14 H138.93 M138.93 477.14 H141.85 M141.85 479.53 H144.77 M144.77 480.38 H147.68 M147.68 481.24 H150.60 M150.60 480.38 H153.52 M153.52 481.24 H156.44 M156.44 478.93 H159.36 M159.36 481.24 H162.27 M162.27 480.38 H165.19 M165.19 481.24 H168.11 M168.11 481.54 H171.03 M171.03 480.38 H173.95 M173.95 481.24 H176.86 M176.86 480.38 H179.78 M179.78 478.93 H182.70 M182.70 481.24 H185.62 M185.62 479.53 H188.54 M188.54 480.38 H191.45 M191.45 481.24 H194.37 M194.37 478.16 H197.29 M197.29 480.38 H200.21 M200.21 481.24 H203.13 M203.13 479.53 H206.04 M206.04 480.38 H208.96 M208.96 481.24 H211.88 M211.88 473.89 H214.80 M214.80 480.38 H217.72 M217.72 479.53 H220.63 M220.63 476.71 H223.55 M223.55 479.53 H226.47 M226.47 476.71 H229.39 M229.39 479.53 H232.31 M232.31 477.82 H235.22 M235.22 477.40 H238.14 M238.14 477.82 H241.06 M241.06 476.97 H243.98 M243.98 475.09 H246.90 M246.90 473.55 H249.81 M249.81 470.99 H252.73 M252.73 466.29 H255.65 M255.65 462.45 H258.57 M258.57 463.30 H261.49 M261.49 459.03 H264.40 M264.40 454.42 H267.32 M267.32 447.42 H270.24 M270.24 448.79 H273.16 M273.16 455.62 H276.08 M276.08 459.89 H278.99 M278.99 462.45 H281.91 M281.91 459.03 H284.83 M284.83 455.45 H287.75 M287.75 462.02 H290.67 M290.67 462.02 H293.58 M293.58 462.02 H296.50 M296.50 466.72 H299.42 M299.42 468.86 H302.34 M302.34 481.41 H305.26 M305.26 481.54 H308.17 M308.17 481.54 H311.09 M311.09 481.54 H314.01 M314.01 481.54 H316.93 M316.93 481.54 H319.85 M319.85 481.54 H322.76 M322.76 481.54 H325.68" fill="none" stroke="#333" stroke-width="0.78"/>
<g fill="#000"><rect x="38.93" y="327.54" width="4.5" height="4.5"/><rect x="41.84" y="300.64" width="4.5" height="4.5"/><rect x="44.76" y="333.77" width="4.5" height="4.5"/><rect x="47.68" y="305.33" width="4.5" height="4.5"/><rect x="50.60" y="365.11" width="4.5" height="4.5"/><rect x="53.52" y="379.12" width="4.5" height="4.5"/><rect x="56.44" y="405.42" width="4.5" height="4.5"/><rect x="59.35" y="428.05" width="4.5" height="4.5"/><rect x="62.27" y="430.02" width="4.5" height="4.5"/><rect x="65.19" y="436.85" width="4.5" height="4.5"/><rect x="68.11" y="446.93" width="4.5" height="4.5"/><rect x="71.03" y="457.00" width="4.5" height="4.5"/><rect x="73.94" y="464.61" width="4.5" height="4.5"/><rect x="76.86" y="459.57" width="4.5" height="4.5"/><rect x="79.78" y="465.89" width="4.5" height="4.5"/><rect x="82.70" y="464.61" width="4.5" height="4.5"/><rect x="85.62" y="463.84" width="4.5" height="4.5"/><rect x="88.53" y="467.59" width="4.5" height="4.5"/><rect x="91.45" y="463.32" width="4.5" height="4.5"/><rect x="94.37" y="469.64" width="4.5" height="4.5"/><rect x="97.29" y="470.84" width="4.5" height="4.5"/><rect x="100.20" y="471.01" width="4.5" height="4.5"/><rect x="103.12" y="470.84" width="4.5" height="4.5"/><rect x="106.04" y="471.01" width="4.5" height="4.5"/><rect x="108.96" y="473.91" width="4.5" height="4.5"/><rect x="111.88" y="476.13" width="4.5" height="4.5"/><rect x="114.80" y="476.99" width="4.5" height="4.5"/><rect x="117.71" y="475.28" width="4.5" height="4.5"/><rect x="120.63" y="473.40" width="4.5" height="4.5"/><rect x="123.55" y="473.57" width="4.5" height="4.5"/><rect x="126.47" y="473.40" width="4.5" height="4.5"/><rect x="129.38" y="475.28" width="4.5" height="4.5"/><rect x="132.30" y="472.89" width="4.5" height="4.5"/><rect x="135.22" y="472.89" width="4.5" height="4.5"/><rect x="138.14" y="472.89" width="4.5" height="4.5"/><rect x="141.06" y="475.28" width="4.5" height="4.5"/><rect x="143.97" y="476.13" width="4.5" height="4.5"/><rect x="146.89" y="476.99" width="4.5" height="4.5"/><rect x="149.81" y="476.13" width="4.5" height="4.5"/><rect x="152.73" y="476.99" width="4.5" height="4.5"/><rect x="155.65" y="474.68" width="4.5" height="4.5"/><rect x="158.56" y="476.99" width="4.5" height="4.5"/><rect x="161.48" y="476.13" width="4.5" height="4.5"/><rect x="164.40" y="476.99" width="4.5" height="4.5"/><rect x="167.32" y="477.84" width="4.5" height="4.5"/><rect x="170.24" y="476.13" width="4.5" height="4.5"/><rect x="173.15" y="476.99" width="4.5" height="4.5"/><rect x="176.07" y="476.13" width="4.5" height="4.5"/><rect x="178.99" y="474.68" width="4.5" height="4.5"/><rect x="181.91" y="476.99" width="4.5" height="4.5"/><rect x="184.83" y="475.28" width="4.5" height="4.5"/><rect x="187.75" y="476.13" width="4.5" height="4.5"/><rect x="190.66" y="476.99" width="4.5" height="4.5"/><rect x="193.58" y="473.91" width="4.5" height="4.5"/><rect x="196.50" y="476.13" width="4.5" height="4.5"/><rect x="199.42" y="476.99" width="4.5" height="4.5"/><rect x="202.33" y="475.28" width="4.5" height="4.5"/><rect x="205.25" y="476.13" width="4.5" height="4.5"/><rect x="208.17" y="476.99" width="4.5" height="4.5"/><rect x="211.09" y="469.64" width="4.5" height="4.5"/><rect x="214.01" y="476.13" width="4.5" height="4.5"/><rect x="216.93" y="475.28" width="4.5" height="4.5"/><rect x="219.84" y="472.46" width="4.5" height="4.5"/><rect x="222.76" y="475.28" width="4.5" height="4.5"/><rect x="225.68" y="472.46" width="4.5" height="4.5"/><rect x="228.60" y="475.28" width="4.5" height="4.5"/><rect x="231.51" y="473.57" width="4.5" height="4.5"/><rect x="234.43" y="473.15" width="4.5" height="4.5"/><rect x="237.35" y="473.57" width="4.5" height="4.5"/><rect x="240.27" y="472.72" width="4.5" height="4.5"/><rect x="243.19" y="470.84" width="4.5" height="4.5"/><rect x="246.11" y="469.30" width="4.5" height="4.5"/><rect x="249.02" y="466.74" width="4.5" height="4.5"/><rect x="251.94" y="462.04" width="4.5" height="4.5"/><rect x="254.86" y="458.20" width="4.5" height="4.5"/><rect x="257.78" y="459.05" width="4.5" height="4.5"/><rect x="260.69" y="454.78" width="4.5" height="4.5"/><rect x="263.61" y="450.17" width="4.5" height="4.5"/><rect x="266.53" y="443.17" width="4.5" height="4.5"/><rect x="269.45" y="444.54" width="4.5" height="4.5"/><rect x="272.37" y="451.37" width="4.5" height="4.5"/><rect x="275.29" y="455.64" width="4.5" height="4.5"/><rect x="278.20" y="458.20" width="4.5" height="4.5"/><rect x="281.12" y="454.78" width="4.5" height="4.5"/><rect x="284.04" y="451.20" width="4.5" height="4.5"/><rect x="286.96" y="457.77" width="4.5" height="4.5"/><rect x="289.88" y="457.77" width="4.5" height="4.5"/><rect x="292.79" y="457.77" width="4.5" height="4.5"/><rect x="295.71" y="462.47" width="4.5" height="4.5"/><rect x="298.63" y="464.61" width="4.5" height="4.5"/><rect x="301.55" y="477.16" width="4.5" height="4.5"/><rect x="304.47" y="477.84" width="4.5" height="4.5"/><rect x="307.38" y="478.70" width="4.5" height="4.5"/><rect x="310.30" y="478.70" width="4.5" height="4.5"/><rect x="313.22" y="478.70" width="4.5" height="4.5"/><rect x="316.14" y="478.70" width="4.5" height="4.5"/><rect x="319.06" y="478.70" width="4.5" height="4.5"/><rect x="321.97" y="478.70" width="4.5" height="4.5"/></g>
<g transform="scale(1,1.3800)"><path d="M38.01 334.088 L38.04 333.569 L38.07 333.051 L38.10 332.532 L38.12 332.014 L38.15 331.496 L38.18 330.979 L38.21 330.461 L38.23 329.944 L38.26 329.427 L38.28 328.910 L38.31 328.393 L38.33 327.877 L38.36 327.361 L38.38 326.844 L38.40 326.328 L38.43 325.813 L38.45 325.297 L38.47 324.782 L38.49 324.266 L38.51 323.751 L38.54 323.236 L38.56 322.722 L38.58 322.207 L38.60 321.693 L38.61 321.178 L38.63 320.664 L38.65 320.150 L38.67 319.636 L38.69 319.122 L38.71 318.609 L38.72 318.095 L38.74 317.582 L38.76 317.068 L38.77 316.555 L38.79 316.042 L38.81 315.529 L38.82 315.016 L38.84 314.504 L38.85 313.991 L38.87 313.478 L38.88 312.966 L38.89 312.454 L38.91 311.941 L38.92 311.429 L38.93 310.917 L38.95 310.405 L38.96 309.893 L38.97 309.381 L38.99 308.869 L39.00 308.357 L39.01 307.845 L39.02 307.334 L39.03 306.822 L39.05 306.310 L39.06 305.799 L39.07 305.287 L39.08 304.776 L39.09 304.264 L39.10 303.753 L39.11 303.241 L39.12 302.730 L39.13 302.219 L39.14 301.707 L39.15 301.196 L39.16 300.685 L39.17 300.173 L39.18 299.662 L39.19 299.151 L39.20 298.639 L39.21 298.128 L39.22 297.617 L39.23 297.105 L39.23 296.594 L39.24 296.082 L39.25 295.571 L39.26 295.060 L39.27 294.548 L39.28 294.037 L39.29 293.525 L39.30 293.013 L39.30 292.502 L39.31 291.990 L39.32 291.478 L39.33 290.966 L39.34 290.454 L39.35 289.942 L39.36 289.430 L39.36 288.918 L39.37 288.406 L39.38 287.894 L39.39 287.382 L39.40 286.869 L39.41 286.357 L39.42 285.844 L39.43 285.331 L39.43 284.819 L39.44 284.306 L39.45 283.793 L39.46 283.280 L39.47 282.766 L39.48 282.253 L39.49 281.740 L39.50 281.226 L39.51 280.712 L39.52 280.198 L39.53 279.685 L39.54 279.170 L39.55 278.656 L39.56 278.142 L39.57 277.627 L39.58 277.113 L39.59 276.598 L39.60 276.083 L39.61 275.568 L39.62 275.052 L39.63 274.537 L39.65 274.021 L39.66 273.505 L39.67 272.989 L39.68 272.473 L39.69 271.957 L39.71 271.440 L39.72 270.924 L39.73 270.407 L39.75 269.890 L39.76 269.372 L39.77 268.855 L39.79 268.337 L39.80 267.819 L39.82 267.301 L39.83 266.782 L39.85 266.264 L39.86 265.745 L39.88 265.226 L39.89 264.707 L39.91 264.187 L39.93 263.667 L39.94 263.147 L39.96 262.627 L39.98 262.107 L40.00 261.586 L40.01 261.065 L40.03 260.544 L40.05 260.023 L40.07 259.501 L40.09 258.980 L40.11 258.459 L40.13 257.938 L40.15 257.416 L40.17 256.895 L40.19 256.375 L40.21 255.854 L40.23 255.334 L40.26 254.814 L40.28 254.294 L40.30 253.775 L40.32 253.256 L40.35 252.738 L40.37 252.220 L40.39 251.703 L40.42 251.186 L40.44 250.670 L40.47 250.155 L40.49 249.641 L40.52 249.127 L40.54 248.614 L40.57 248.102 L40.59 247.591 L40.62 247.080 L40.65 246.571 L40.67 246.063 L40.70 245.556 L40.73 245.050 L40.76 244.545 L40.78 244.041 L40.81 243.538 L40.84 243.037 L40.87 242.537 L40.90 242.039 L40.93 241.542 L40.96 241.046 L40.99 240.552 L41.02 240.059 L41.05 239.568 L41.08 239.079 L41.11 238.591 L41.14 238.105 L41.17 237.621 L41.20 237.138 L41.23 236.658 L41.26 236.179 L41.30 235.701 L41.33 235.224 L41.36 234.746 L41.40 234.267 L41.43 233.785 L41.47 233.299 L41.51 232.810 L41.55 232.314 L41.59 231.813 L41.63 231.304 L41.68 230.786 L41.73 230.259 L41.78 229.722 L41.84 229.174 L41.89 228.614 L41.95 228.040 L42.02 227.453 L42.09 226.850 L42.16 226.231 L42.24 225.595 L42.32 224.942 L42.40 224.272 L42.49 223.594 L42.59 222.914 L42.69 222.239 L42.79 221.576 L42.90 220.933 L43.01 220.316 L43.12 219.733 L43.24 219.190 L43.37 218.695 L43.49 218.255 L43.63 217.877 L43.76 217.568 L43.90 217.334 L44.05 217.184 L44.19 217.124 L44.35 217.160 L44.50 217.286 L44.66 217.497 L44.82 217.785 L44.98 218.143 L45.14 218.565 L45.31 219.043 L45.47 219.570 L45.63 220.139 L45.79 220.744 L45.95 221.377 L46.11 222.031 L46.26 222.699 L46.41 223.375 L46.56 224.051 L46.70 224.721 L46.84 225.377 L46.96 226.015 L47.09 226.635 L47.21 227.240 L47.32 227.829 L47.43 228.404 L47.54 228.966 L47.64 229.515 L47.73 230.053 L47.83 230.580 L47.92 231.098 L48.00 231.607 L48.09 232.109 L48.17 232.605 L48.25 233.095 L48.32 233.580 L48.40 234.062 L48.47 234.541 L48.54 235.018 L48.61 235.495 L48.68 235.971 L48.75 236.450 L48.82 236.929 L48.89 237.410 L48.96 237.893 L49.03 238.377 L49.10 238.862 L49.17 239.349 L49.23 239.838 L49.30 240.327 L49.37 240.818 L49.44 241.310 L49.50 241.804 L49.57 242.298 L49.64 242.794 L49.70 243.291 L49.77 243.789 L49.83 244.288 L49.90 244.789 L49.97 245.290 L50.03 245.792 L50.10 246.296 L50.16 246.800 L50.23 247.306 L50.29 247.812 L50.36 248.319 L50.42 248.827 L50.49 249.336 L50.55 249.845 L50.62 250.355 L50.68 250.867 L50.75 251.378 L50.82 251.891 L50.88 252.404 L50.95 252.918 L51.01 253.432 L51.08 253.947 L51.14 254.462 L51.21 254.978 L51.28 255.495 L51.34 256.012 L51.41 256.529 L51.48 257.047 L51.55 257.565 L51.61 258.084 L51.68 258.602 L51.75 259.121 L51.82 259.641 L51.89 260.160 L51.96 260.680 L52.02 261.200 L52.09 261.720 L52.16 262.240 L52.23 262.761 L52.31 263.281 L52.38 263.801 L52.45 264.322 L52.52 264.842 L52.59 265.362 L52.67 265.883 L52.74 266.403 L52.81 266.923 L52.89 267.442 L52.96 267.962 L53.04 268.481 L53.12 269.001 L53.19 269.519 L53.27 270.038 L53.35 270.556 L53.43 271.074 L53.51 271.592 L53.59 272.109 L53.67 272.625 L53.75 273.141 L53.83 273.657 L53.91 274.172 L54.00 274.686 L54.08 275.200 L54.17 275.714 L54.25 276.226 L54.34 276.738 L54.42 277.250 L54.51 277.761 L54.60 278.271 L54.69 278.780 L54.78 279.290 L54.87 279.798 L54.97 280.306 L55.06 280.814 L55.15 281.321 L55.25 281.827 L55.35 282.333 L55.45 282.839 L55.54 283.344 L55.64 283.848 L55.75 284.352 L55.85 284.856 L55.95 285.359 L56.06 285.862 L56.16 286.364 L56.27 286.866 L56.38 287.368 L56.49 287.869 L56.60 288.370 L56.72 288.871 L56.83 289.371 L56.95 289.871 L57.06 290.370 L57.18 290.870 L57.30 291.369 L57.43 291.867 L57.55 292.366 L57.68 292.864 L57.80 293.362 L57.93 293.860 L58.06 294.357 L58.19 294.854 L58.33 295.352 L58.46 295.848 L58.60 296.345 L58.74 296.842 L58.88 297.338 L59.03 297.834 L59.17 298.330 L59.32 298.826 L59.47 299.322 L59.62 299.818 L59.77 300.314 L59.93 300.809 L60.08 301.305 L60.24 301.800 L60.40 302.296 L60.57 302.791 L60.73 303.287 L60.90 303.782 L61.07 304.278 L61.24 304.773 L61.42 305.268 L61.59 305.764 L61.77 306.259 L61.95 306.755 L62.14 307.251 L62.32 307.747 L62.51 308.242 L62.70 308.738 L62.90 309.234 L63.09 309.731 L63.29 310.227 L63.49 310.723 L63.70 311.220 L63.90 311.717 L64.11 312.214 L64.32 312.711 L64.54 313.209 L64.75 313.706 L64.97 314.204 L65.20 314.702 L65.42 315.200 L65.65 315.699 L65.88 316.197 L66.11 316.696 L66.35 317.194 L66.59 317.691 L66.84 318.188 L67.09 318.684 L67.34 319.179 L67.59 319.673 L67.85 320.166 L68.12 320.658 L68.39 321.148 L68.66 321.637 L68.94 322.124 L69.22 322.608 L69.51 323.091 L69.80 323.572 L70.10 324.050 L70.40 324.526 L70.71 324.999 L71.02 325.469 L71.34 325.936 L71.67 326.400 L72.00 326.861 L72.34 327.319 L72.68 327.773 L73.03 328.223 L73.38 328.670 L73.75 329.112 L74.12 329.551 L74.49 329.985 L74.88 330.415 L75.27 330.840 L75.66 331.261 L76.07 331.676 L76.48 332.087 L76.90 332.493 L77.33 332.893 L77.76 333.288 L78.20 333.677 L78.66 334.061 L79.12 334.438 L79.58 334.810 L80.06 335.175 L80.54 335.535 L81.04 335.887 L81.54 336.234 L82.05 336.573 L82.57 336.906 L83.10 337.232 L83.64 337.551 L84.19 337.864 L84.74 338.170 L85.30 338.470 L85.87 338.763 L86.45 339.050 L87.03 339.330 L87.62 339.605 L88.22 339.872 L88.83 340.134 L89.44 340.390 L90.05 340.639 L90.67 340.883 L91.30 341.120 L91.94 341.351 L92.57 341.577 L93.22 341.797 L93.86 342.010 L94.52 342.218 L95.17 342.421 L95.83 342.617 L96.50 342.809 L97.17 342.994 L97.84 343.174 L98.51 343.349 L99.19 343.518 L99.87 343.681 L100.55 343.840 L101.23 343.993 L101.92 344.141 L102.61 344.284 L103.30 344.421 L103.99 344.554 L104.68 344.681 L105.38 344.804 L106.07 344.922 L106.76 345.034 L107.46 345.143 L108.16 345.246 L108.85 345.345 L109.55 345.439 L110.25 345.530 L110.95 345.615 L111.65 345.697 L112.35 345.774 L113.05 345.848 L113.75 345.918 L114.45 345.983 L115.16 346.045 L115.86 346.103 L116.56 346.158 L117.27 346.209 L117.97 346.257 L118.68 346.302 L119.38 346.343 L120.09 346.381 L120.80 346.416 L121.50 346.448 L122.21 346.478 L122.92 346.504 L123.63 346.528 L124.34 346.549 L125.05 346.568 L125.76 346.584 L126.47 346.598 L127.18 346.610 L127.89 346.619 L128.60 346.627 L129.31 346.632 L130.02 346.636 L130.73 346.637 L131.44 346.637 L132.16 346.636 L132.87 346.633 L133.58 346.628 L134.29 346.622 L135.01 346.615 L135.72 346.606 L136.43 346.597 L137.14 346.586 L137.86 346.575 L138.57 346.562 L139.28 346.549 L140.00 346.536 L140.71 346.521 L141.42 346.507 L142.14 346.491 L142.85 346.476 L143.56 346.460 L144.28 346.444 L144.99 346.429 L145.70 346.413 L146.42 346.397 L147.13 346.382 L147.84 346.367 L148.55 346.352 L149.27 346.338 L149.98 346.324 L150.69 346.311 L151.40 346.299 L152.11 346.287 L152.83 346.277 L153.54 346.268 L154.25 346.259 L154.96 346.252 L155.67 346.246 L156.38 346.242 L157.09 346.239 L157.80 346.237 L158.51 346.238 L159.22 346.239 L159.92 346.243 L160.63 346.249 L161.34 346.257 L162.05 346.266 L162.75 346.278 L163.46 346.292 L164.16 346.309 L164.87 346.328 L165.57 346.349 L166.28 346.373 L166.98 346.400 L167.68 346.430 L168.38 346.462 L169.09 346.498 L169.79 346.536 L170.49 346.578" fill="none" stroke="#0000f0" stroke-width="2.15" stroke-linejoin="round"/></g>
<path d="M144.18 481.03 L144.80 481.03 L145.41 481.03 L146.02 481.03 L146.63 481.03 L147.25 481.03 L147.86 481.03 L148.47 481.03 L149.09 481.03 L149.70 481.03 L150.31 481.03 L150.92 481.03 L151.54 481.03 L152.15 481.03 L152.76 481.03 L153.38 481.03 L153.99 481.03 L154.60 481.03 L155.21 481.03 L155.83 481.03 L156.44 481.03 L157.05 481.03 L157.67 481.03 L158.28 481.03 L158.89 481.03 L159.50 481.03 L160.12 481.03 L160.73 481.03 L161.34 481.03 L161.96 481.03 L162.57 481.03 L163.18 481.03 L163.79 481.03 L164.41 481.03 L165.02 481.03 L165.63 481.03 L166.25 481.03 L166.86 481.03 L167.47 481.03 L168.08 481.03 L168.70 481.03 L169.31 481.03 L169.92 481.03 L170.54 481.03 L171.15 481.03 L171.76 481.03 L172.37 481.03 L172.99 481.03 L173.60 481.03 L174.21 481.03 L174.83 481.03 L175.44 481.03 L176.05 481.03 L176.66 481.03 L177.28 481.03 L177.89 481.03 L178.50 481.03 L179.12 481.03 L179.73 481.03 L180.34 481.03 L180.96 481.03 L181.57 481.03 L182.18 481.03 L182.79 481.03 L183.41 481.03 L184.02 481.03 L184.63 481.03 L185.25 481.03 L185.86 481.03 L186.47 481.03 L187.08 481.03 L187.70 481.03 L188.31 481.03 L188.92 481.03 L189.54 481.03 L190.15 481.03 L190.76 481.03 L191.37 481.03 L191.99 481.03 L192.60 481.03 L193.21 481.03 L193.83 481.03 L194.44 481.03 L195.05 481.03 L195.66 481.03 L196.28 481.03 L196.89 481.03 L197.50 481.03 L198.12 481.03 L198.73 481.03 L199.34 481.03 L199.95 481.03 L200.57 481.03 L201.18 481.03 L201.79 481.03 L202.41 481.03 L203.02 481.03 L203.63 481.03 L204.24 481.03 L204.86 481.03 L205.47 481.03 L206.08 481.03 L206.70 481.03 L207.31 481.03 L207.92 481.03 L208.53 481.03 L209.15 481.02 L209.76 481.02 L210.37 481.02 L210.99 481.02 L211.60 481.02 L212.21 481.01 L212.82 481.01 L213.44 481.01 L214.05 481.01 L214.66 481.00 L215.28 481.00 L215.89 480.99 L216.50 480.98 L217.11 480.98 L217.73 480.97 L218.34 480.96 L218.95 480.95 L219.57 480.94 L220.18 480.92 L220.79 480.91 L221.40 480.89 L222.02 480.87 L222.63 480.85 L223.24 480.83 L223.86 480.80 L224.47 480.77 L225.08 480.73 L225.70 480.70 L226.31 480.65 L226.92 480.61 L227.53 480.56 L228.15 480.50 L228.76 480.44 L229.37 480.37 L229.99 480.29 L230.60 480.20 L231.21 480.11 L231.82 480.01 L232.44 479.90 L233.05 479.78 L233.66 479.65 L234.28 479.51 L234.89 479.35 L235.50 479.18 L236.11 479.00 L236.73 478.81 L237.34 478.60 L237.95 478.37 L238.57 478.13 L239.18 477.87 L239.79 477.59 L240.40 477.30 L241.02 476.98 L241.63 476.65 L242.24 476.29 L242.86 475.92 L243.47 475.52 L244.08 475.10 L244.69 474.66 L245.31 474.20 L245.92 473.72 L246.53 473.22 L247.15 472.69 L247.76 472.14 L248.37 471.57 L248.98 470.98 L249.60 470.37 L250.21 469.74 L250.82 469.10 L251.44 468.43 L252.05 467.75 L252.66 467.05 L253.27 466.34 L253.89 465.62 L254.50 464.89 L255.11 464.15 L255.73 463.41 L256.34 462.66 L256.95 461.91 L257.56 461.16 L258.18 460.41 L258.79 459.67 L259.40 458.93 L260.02 458.21 L260.63 457.50 L261.24 456.81 L261.85 456.13 L262.47 455.48 L263.08 454.85 L263.69 454.24 L264.31 453.67 L264.92 453.12 L265.53 452.62 L266.15 452.14 L266.76 451.71 L267.37 451.31 L267.98 450.96 L268.60 450.65 L269.21 450.39 L269.82 450.17 L270.44 450.00 L271.05 449.87 L271.66 449.80 L272.27 449.78 L272.89 449.79 L273.50 449.85 L274.11 449.95 L274.73 450.08 L275.34 450.25 L275.95 450.45 L276.56 450.70 L277.18 450.97 L277.79 451.28 L278.40 451.63 L279.02 452.00 L279.63 452.41 L280.24 452.84 L280.85 453.31 L281.47 453.79 L282.08 454.30 L282.69 454.84 L283.31 455.39 L283.92 455.97 L284.53 456.56 L285.14 457.17 L285.76 457.79 L286.37 458.42 L286.98 459.06 L287.60 459.71 L288.21 460.37 L288.82 461.03 L289.43 461.69 L290.05 462.35 L290.66 463.01 L291.27 463.67 L291.89 464.33 L292.50 464.98 L293.11 465.63 L293.72 466.27 L294.34 466.89 L294.95 467.51 L295.56 468.12 L296.18 468.71 L296.79 469.30 L297.40 469.86 L298.01 470.42 L298.63 470.96 L299.24 471.48 L299.85 471.99 L300.47 472.48 L301.08 472.95 L301.69 473.41 L302.30 473.85 L302.92 474.27 L303.53 474.67 L304.14 475.06 L304.76 475.44 L305.37 475.79 L305.98 476.13 L306.59 476.45 L307.21 476.76 L307.82 477.05 L308.43 477.32 L309.05 477.58 L309.66 477.83 L310.27 478.06 L310.89 478.28 L311.50 478.49 L312.11 478.68 L312.72 478.86 L313.34 479.03 L313.95 479.19 L314.56 479.34 L315.18 479.48 L315.79 479.61 L316.40 479.72 L317.01 479.84 L317.63 479.94 L318.24 480.03 L318.85 480.12 L319.47 480.20 L320.08 480.28 L320.69 480.35 L321.30 480.41 L321.92 480.47 L322.53 480.52 L323.14 480.57 L323.76 480.62 L324.37 480.66 L324.98 480.69 L325.59 480.73 L326.21 480.76 L326.82 480.79 L327.43 480.81" fill="none" stroke="#f00000" stroke-width="2.6" stroke-linejoin="round"/>
<rect x="36.70" y="268.90" width="291.70" height="213.80" fill="none" stroke="#000" stroke-width="2.4"/>
<path d="M65.98 482.70 v-4.2 M95.16 482.70 v-4.2 M124.34 482.70 v-4.2 M153.52 482.70 v-4.2 M182.70 482.70 v-4.2 M211.88 482.70 v-4.2 M241.06 482.70 v-4.2 M270.24 482.70 v-4.2 M299.42 482.70 v-4.2 M51.39 482.70 v-2.8 M80.57 482.70 v-2.8 M109.75 482.70 v-2.8 M138.93 482.70 v-2.8 M168.11 482.70 v-2.8 M197.29 482.70 v-2.8 M226.47 482.70 v-2.8 M255.65 482.70 v-2.8 M284.83 482.70 v-2.8 M314.01 482.70 v-2.8 M36.70 439.10 h4.2 M36.70 396.40 h4.2 M36.70 353.70 h4.2 M36.70 311.00 h4.2 M36.70 460.45 h2.8 M36.70 417.75 h2.8 M36.70 375.05 h2.8 M36.70 332.35 h2.8 M36.70 289.65 h2.8" stroke="#000" stroke-width="1.7" fill="none"/>
<path d="M384.00 480.50 L384.00 430.58 L386.93 430.58 L386.93 311.30 L389.86 311.30 L389.86 291.70 L392.79 291.70 L392.79 277.73 L395.72 277.73 L395.72 339.42 L398.64 339.42 L398.64 354.75 L401.57 354.75 L401.57 374.01 L404.50 374.01 L404.50 387.98 L407.43 387.98 L407.43 430.15 L410.36 430.15 L410.36 438.42 L413.29 438.42 L413.29 440.80 L416.22 440.80 L416.22 434.67 L419.15 434.67 L419.15 447.62 L422.08 447.62 L422.08 452.22 L425.01 452.22 L425.01 464.32 L427.94 464.32 L427.94 454.78 L430.86 454.78 L430.86 468.58 L433.79 468.58 L433.79 465.34 L436.72 465.34 L436.72 466.02 L439.65 466.02 L439.65 471.48 L442.58 471.48 L442.58 473.18 L445.51 473.18 L445.51 470.28 L448.44 470.28 L448.44 469.35 L451.37 469.35 L451.37 473.61 L454.30 473.61 L454.30 476.59 L457.23 476.59 L457.23 477.44 L460.15 477.44 L460.15 475.31 L463.08 475.31 L463.08 478.29 L466.01 478.29 L466.01 474.80 L468.94 474.80 L468.94 478.29 L471.87 478.29 L471.87 479.14 L474.80 479.14 L474.80 478.29 L477.73 478.29 L477.73 476.84 L480.66 476.84 L480.66 479.14 L483.59 479.14 L483.59 478.29 L486.51 478.29 L486.51 475.31 L489.44 475.31 L489.44 479.14 L492.37 479.14 L492.37 478.29 L495.30 478.29 L495.30 479.44 L498.23 479.44 L498.23 479.14 L501.16 479.14 L501.16 475.31 L504.09 475.31 L504.09 479.14 L507.02 479.14 L507.02 479.14 L509.95 479.14 L509.95 476.84 L512.88 476.84 L512.88 479.44 L515.81 479.44 L515.81 479.14 L518.73 479.14 L518.73 478.29 L521.66 478.29 L521.66 479.44 L524.59 479.44 L524.59 479.14 L527.52 479.14 L527.52 479.44 L530.45 479.44 L530.45 479.14 L533.38 479.14 L533.38 478.29 L536.31 478.29 L536.31 479.44 L539.24 479.44 L539.24 476.08 L542.17 476.08 L542.17 479.14 L545.10 479.14 L545.10 478.29 L548.02 478.29 L548.02 476.84 L550.95 476.84 L550.95 479.14 L553.88 479.14 L553.88 473.61 L556.81 473.61 L556.81 479.44 L559.74 479.44 L559.74 479.44 L562.67 479.44 L562.67 479.14 L565.60 479.14 L565.60 477.35 L568.53 477.35 L568.53 479.14 L571.46 479.14 L571.46 475.31 L574.38 475.31 L574.38 479.14 L577.31 479.14 L577.31 476.08 L580.24 476.08 L580.24 479.14 L583.17 479.14 L583.17 478.29 L586.10 478.29 L586.10 475.31 L589.03 475.31 L589.03 475.74 L591.96 475.74 L591.96 473.61 L594.89 473.61 L594.89 474.03 L597.82 474.03 L597.82 471.22 L600.75 471.22 L600.75 470.28 L603.67 470.28 L603.67 468.92 L606.60 468.92 L606.60 466.36 L609.53 466.36 L609.53 461.76 L612.46 461.76 L612.46 469.77 L615.39 469.77 L615.39 462.27 L618.32 462.27 L618.32 463.81 L621.25 463.81 L621.25 462.96 L624.18 462.96 L624.18 464.83 L627.11 464.83 L627.11 458.01 L630.04 458.01 L630.04 461.00 L632.97 461.00 L632.97 461.25 L635.89 461.25 L635.89 455.97 L638.82 455.97 L638.82 461.51 L641.75 461.51 L641.75 469.77 L644.68 469.77 L644.68 473.18 L647.61 473.18 L647.61 478.63 L650.54 478.63 L650.54 479.44 L653.47 479.44 L653.47 479.44 L656.40 479.44 L656.40 479.44 L659.33 479.44 L659.33 479.44 L662.25 479.44 L662.25 479.44 L665.18 479.44 L665.18 479.44 L668.11 479.44 L668.11 479.44 L671.04 479.44 L671.04 479.44 L673.97 479.44 L673.97 480.50Z" fill="url(#hB)" stroke="none"/>
<path d="M384.00 480.50 V430.58 M386.93 480.50 V311.30 M389.86 480.50 V291.70 M392.79 480.50 V277.73 M395.72 480.50 V277.73 M398.64 480.50 V339.42 M401.57 480.50 V354.75 M404.50 480.50 V374.01 M407.43 480.50 V387.98 M410.36 480.50 V430.15 M413.29 480.50 V438.42 M416.22 480.50 V434.67 M419.15 480.50 V434.67 M422.08 480.50 V447.62 M425.01 480.50 V452.22 M427.94 480.50 V454.78 M430.86 480.50 V454.78 M433.79 480.50 V465.34 M436.72 480.50 V465.34 M439.65 480.50 V466.02 M442.58 480.50 V471.48 M445.51 480.50 V470.28 M448.44 480.50 V469.35 M451.37 480.50 V469.35 M454.30 480.50 V473.61 M457.23 480.50 V476.59 M460.15 480.50 V475.31 M463.08 480.50 V475.31 M466.01 480.50 V474.80 M468.94 480.50 V474.80 M471.87 480.50 V478.29 M474.80 480.50 V478.29 M477.73 480.50 V476.84 M480.66 480.50 V476.84 M483.59 480.50 V478.29 M486.51 480.50 V475.31 M489.44 480.50 V475.31 M492.37 480.50 V478.29 M495.30 480.50 V478.29 M498.23 480.50 V479.14 M501.16 480.50 V475.31 M504.09 480.50 V475.31 M507.02 480.50 V479.14 M509.95 480.50 V476.84 M512.88 480.50 V476.84 M515.81 480.50 V479.14 M518.73 480.50 V478.29 M521.66 480.50 V478.29 M524.59 480.50 V479.14 M527.52 480.50 V479.14 M530.45 480.50 V479.14 M533.38 480.50 V478.29 M536.31 480.50 V478.29 M539.24 480.50 V476.08 M542.17 480.50 V476.08 M545.10 480.50 V478.29 M548.02 480.50 V476.84 M550.95 480.50 V476.84 M553.88 480.50 V473.61 M556.81 480.50 V473.61 M559.74 480.50 V479.44 M562.67 480.50 V479.14 M565.60 480.50 V477.35 M568.53 480.50 V477.35 M571.46 480.50 V475.31 M574.38 480.50 V475.31 M577.31 480.50 V476.08 M580.24 480.50 V476.08 M583.17 480.50 V478.29 M586.10 480.50 V475.31 M589.03 480.50 V475.31 M591.96 480.50 V473.61 M594.89 480.50 V473.61 M597.82 480.50 V471.22 M600.75 480.50 V470.28 M603.67 480.50 V468.92 M606.60 480.50 V466.36 M609.53 480.50 V461.76 M612.46 480.50 V461.76 M615.39 480.50 V462.27 M618.32 480.50 V462.27 M621.25 480.50 V462.96 M624.18 480.50 V462.96 M627.11 480.50 V458.01 M630.04 480.50 V458.01 M632.97 480.50 V461.00 M635.89 480.50 V455.97 M638.82 480.50 V455.97 M641.75 480.50 V461.51 M644.68 480.50 V469.77 M647.61 480.50 V473.18 M650.54 480.50 V478.63 M653.47 480.50 V479.44 M656.40 480.50 V479.44 M659.33 480.50 V479.44 M662.25 480.50 V479.44 M665.18 480.50 V479.44 M668.11 480.50 V479.44 M671.04 480.50 V479.44 M673.97 480.50 V479.44 M384.00 430.58 H386.93 M386.93 311.30 H389.86 M389.86 291.70 H392.79 M392.79 277.73 H395.72 M395.72 339.42 H398.64 M398.64 354.75 H401.57 M401.57 374.01 H404.50 M404.50 387.98 H407.43 M407.43 430.15 H410.36 M410.36 438.42 H413.29 M413.29 440.80 H416.22 M416.22 434.67 H419.15 M419.15 447.62 H422.08 M422.08 452.22 H425.01 M425.01 464.32 H427.94 M427.94 454.78 H430.86 M430.86 468.58 H433.79 M433.79 465.34 H436.72 M436.72 466.02 H439.65 M439.65 471.48 H442.58 M442.58 473.18 H445.51 M445.51 470.28 H448.44 M448.44 469.35 H451.37 M451.37 473.61 H454.30 M454.30 476.59 H457.23 M457.23 477.44 H460.15 M460.15 475.31 H463.08 M463.08 478.29 H466.01 M466.01 474.80 H468.94 M468.94 478.29 H471.87 M471.87 479.14 H474.80 M474.80 478.29 H477.73 M477.73 476.84 H480.66 M480.66 479.14 H483.59 M483.59 478.29 H486.51 M486.51 475.31 H489.44 M489.44 479.14 H492.37 M492.37 478.29 H495.30 M495.30 479.44 H498.23 M498.23 479.14 H501.16 M501.16 475.31 H504.09 M504.09 479.14 H507.02 M507.02 479.14 H509.95 M509.95 476.84 H512.88 M512.88 479.44 H515.81 M515.81 479.14 H518.73 M518.73 478.29 H521.66 M521.66 479.44 H524.59 M524.59 479.14 H527.52 M527.52 479.44 H530.45 M530.45 479.14 H533.38 M533.38 478.29 H536.31 M536.31 479.44 H539.24 M539.24 476.08 H542.17 M542.17 479.14 H545.10 M545.10 478.29 H548.02 M548.02 476.84 H550.95 M550.95 479.14 H553.88 M553.88 473.61 H556.81 M556.81 479.44 H559.74 M559.74 479.44 H562.67 M562.67 479.14 H565.60 M565.60 477.35 H568.53 M568.53 479.14 H571.46 M571.46 475.31 H574.38 M574.38 479.14 H577.31 M577.31 476.08 H580.24 M580.24 479.14 H583.17 M583.17 478.29 H586.10 M586.10 475.31 H589.03 M589.03 475.74 H591.96 M591.96 473.61 H594.89 M594.89 474.03 H597.82 M597.82 471.22 H600.75 M600.75 470.28 H603.67 M603.67 468.92 H606.60 M606.60 466.36 H609.53 M609.53 461.76 H612.46 M612.46 469.77 H615.39 M615.39 462.27 H618.32 M618.32 463.81 H621.25 M621.25 462.96 H624.18 M624.18 464.83 H627.11 M627.11 458.01 H630.04 M630.04 461.00 H632.97 M632.97 461.25 H635.89 M635.89 455.97 H638.82 M638.82 461.51 H641.75 M641.75 469.77 H644.68 M644.68 473.18 H647.61 M647.61 478.63 H650.54 M650.54 479.44 H653.47 M653.47 479.44 H656.40 M656.40 479.44 H659.33 M659.33 479.44 H662.25 M662.25 479.44 H665.18 M665.18 479.44 H668.11 M668.11 479.44 H671.04 M671.04 479.44 H673.97" fill="none" stroke="#333" stroke-width="0.78"/>
<g fill="#000"><rect x="386.14" y="307.05" width="4.5" height="4.5"/><rect x="389.07" y="287.45" width="4.5" height="4.5"/><rect x="392.00" y="273.48" width="4.5" height="4.5"/><rect x="394.93" y="335.17" width="4.5" height="4.5"/><rect x="397.86" y="350.50" width="4.5" height="4.5"/><rect x="400.79" y="369.76" width="4.5" height="4.5"/><rect x="403.72" y="383.73" width="4.5" height="4.5"/><rect x="406.65" y="425.90" width="4.5" height="4.5"/><rect x="409.58" y="434.17" width="4.5" height="4.5"/><rect x="412.50" y="436.55" width="4.5" height="4.5"/><rect x="415.43" y="430.42" width="4.5" height="4.5"/><rect x="418.36" y="443.37" width="4.5" height="4.5"/><rect x="421.29" y="447.97" width="4.5" height="4.5"/><rect x="424.22" y="460.07" width="4.5" height="4.5"/><rect x="427.15" y="450.53" width="4.5" height="4.5"/><rect x="430.08" y="464.33" width="4.5" height="4.5"/><rect x="433.01" y="461.09" width="4.5" height="4.5"/><rect x="435.94" y="461.77" width="4.5" height="4.5"/><rect x="438.87" y="467.23" width="4.5" height="4.5"/><rect x="441.79" y="468.93" width="4.5" height="4.5"/><rect x="444.72" y="466.03" width="4.5" height="4.5"/><rect x="447.65" y="465.10" width="4.5" height="4.5"/><rect x="450.58" y="469.36" width="4.5" height="4.5"/><rect x="453.51" y="472.34" width="4.5" height="4.5"/><rect x="456.44" y="473.19" width="4.5" height="4.5"/><rect x="459.37" y="471.06" width="4.5" height="4.5"/><rect x="462.30" y="474.04" width="4.5" height="4.5"/><rect x="465.23" y="470.55" width="4.5" height="4.5"/><rect x="468.16" y="474.04" width="4.5" height="4.5"/><rect x="471.08" y="474.89" width="4.5" height="4.5"/><rect x="474.01" y="474.04" width="4.5" height="4.5"/><rect x="476.94" y="472.59" width="4.5" height="4.5"/><rect x="479.87" y="474.89" width="4.5" height="4.5"/><rect x="482.80" y="474.04" width="4.5" height="4.5"/><rect x="485.73" y="471.06" width="4.5" height="4.5"/><rect x="488.66" y="474.89" width="4.5" height="4.5"/><rect x="491.59" y="474.04" width="4.5" height="4.5"/><rect x="494.52" y="475.75" width="4.5" height="4.5"/><rect x="497.45" y="474.89" width="4.5" height="4.5"/><rect x="500.37" y="471.06" width="4.5" height="4.5"/><rect x="503.30" y="474.89" width="4.5" height="4.5"/><rect x="506.23" y="474.89" width="4.5" height="4.5"/><rect x="509.16" y="472.59" width="4.5" height="4.5"/><rect x="512.09" y="475.75" width="4.5" height="4.5"/><rect x="515.02" y="474.89" width="4.5" height="4.5"/><rect x="517.95" y="474.04" width="4.5" height="4.5"/><rect x="520.88" y="475.75" width="4.5" height="4.5"/><rect x="523.81" y="474.89" width="4.5" height="4.5"/><rect x="526.74" y="475.75" width="4.5" height="4.5"/><rect x="529.66" y="474.89" width="4.5" height="4.5"/><rect x="532.59" y="474.04" width="4.5" height="4.5"/><rect x="535.52" y="475.75" width="4.5" height="4.5"/><rect x="538.45" y="471.83" width="4.5" height="4.5"/><rect x="541.38" y="474.89" width="4.5" height="4.5"/><rect x="544.31" y="474.04" width="4.5" height="4.5"/><rect x="547.24" y="472.59" width="4.5" height="4.5"/><rect x="550.17" y="474.89" width="4.5" height="4.5"/><rect x="553.10" y="469.36" width="4.5" height="4.5"/><rect x="556.03" y="475.75" width="4.5" height="4.5"/><rect x="558.95" y="475.75" width="4.5" height="4.5"/><rect x="561.88" y="474.89" width="4.5" height="4.5"/><rect x="564.81" y="473.10" width="4.5" height="4.5"/><rect x="567.74" y="474.89" width="4.5" height="4.5"/><rect x="570.67" y="471.06" width="4.5" height="4.5"/><rect x="573.60" y="474.89" width="4.5" height="4.5"/><rect x="576.53" y="471.83" width="4.5" height="4.5"/><rect x="579.46" y="474.89" width="4.5" height="4.5"/><rect x="582.39" y="474.04" width="4.5" height="4.5"/><rect x="585.32" y="471.06" width="4.5" height="4.5"/><rect x="588.24" y="471.49" width="4.5" height="4.5"/><rect x="591.17" y="469.36" width="4.5" height="4.5"/><rect x="594.10" y="469.78" width="4.5" height="4.5"/><rect x="597.03" y="466.97" width="4.5" height="4.5"/><rect x="599.96" y="466.03" width="4.5" height="4.5"/><rect x="602.89" y="464.67" width="4.5" height="4.5"/><rect x="605.82" y="462.11" width="4.5" height="4.5"/><rect x="608.75" y="457.51" width="4.5" height="4.5"/><rect x="611.68" y="465.52" width="4.5" height="4.5"/><rect x="614.61" y="458.02" width="4.5" height="4.5"/><rect x="617.53" y="459.56" width="4.5" height="4.5"/><rect x="620.46" y="458.71" width="4.5" height="4.5"/><rect x="623.39" y="460.58" width="4.5" height="4.5"/><rect x="626.32" y="453.76" width="4.5" height="4.5"/><rect x="629.25" y="456.75" width="4.5" height="4.5"/><rect x="632.18" y="457.00" width="4.5" height="4.5"/><rect x="635.11" y="451.72" width="4.5" height="4.5"/><rect x="638.04" y="457.26" width="4.5" height="4.5"/><rect x="640.97" y="465.52" width="4.5" height="4.5"/><rect x="643.90" y="468.93" width="4.5" height="4.5"/><rect x="646.82" y="474.38" width="4.5" height="4.5"/><rect x="649.75" y="475.75" width="4.5" height="4.5"/><rect x="652.68" y="476.17" width="4.5" height="4.5"/><rect x="655.61" y="476.60" width="4.5" height="4.5"/><rect x="658.54" y="476.60" width="4.5" height="4.5"/><rect x="661.47" y="476.60" width="4.5" height="4.5"/><rect x="664.40" y="476.60" width="4.5" height="4.5"/><rect x="667.33" y="476.60" width="4.5" height="4.5"/><rect x="670.26" y="476.60" width="4.5" height="4.5"/></g>
<g transform="scale(1,1.3800)"><path d="M385.30 334.097 L385.32 333.511 L385.34 332.926 L385.36 332.341 L385.38 331.756 L385.40 331.172 L385.42 330.589 L385.44 330.005 L385.46 329.422 L385.48 328.840 L385.50 328.257 L385.52 327.675 L385.54 327.094 L385.55 326.512 L385.57 325.931 L385.59 325.351 L385.60 324.770 L385.62 324.190 L385.64 323.611 L385.65 323.031 L385.67 322.452 L385.68 321.873 L385.70 321.295 L385.71 320.716 L385.73 320.138 L385.74 319.560 L385.75 318.983 L385.77 318.406 L385.78 317.828 L385.79 317.252 L385.80 316.675 L385.82 316.099 L385.83 315.523 L385.84 314.947 L385.85 314.371 L385.86 313.795 L385.88 313.220 L385.89 312.645 L385.90 312.070 L385.91 311.495 L385.92 310.921 L385.93 310.346 L385.94 309.772 L385.95 309.198 L385.96 308.624 L385.97 308.050 L385.98 307.476 L385.99 306.903 L386.00 306.329 L386.01 305.756 L386.01 305.183 L386.02 304.610 L386.03 304.037 L386.04 303.464 L386.05 302.891 L386.06 302.318 L386.07 301.746 L386.07 301.173 L386.08 300.601 L386.09 300.028 L386.10 299.456 L386.11 298.884 L386.11 298.311 L386.12 297.739 L386.13 297.167 L386.14 296.595 L386.15 296.022 L386.15 295.450 L386.16 294.878 L386.17 294.306 L386.18 293.734 L386.19 293.162 L386.19 292.590 L386.20 292.017 L386.21 291.445 L386.22 290.873 L386.22 290.301 L386.23 289.728 L386.24 289.156 L386.25 288.584 L386.26 288.011 L386.26 287.439 L386.27 286.866 L386.28 286.293 L386.29 285.720 L386.30 285.148 L386.31 284.575 L386.32 284.001 L386.32 283.428 L386.33 282.855 L386.34 282.282 L386.35 281.708 L386.36 281.134 L386.37 280.561 L386.38 279.987 L386.39 279.413 L386.40 278.838 L386.41 278.264 L386.42 277.689 L386.43 277.115 L386.44 276.540 L386.45 275.964 L386.46 275.389 L386.47 274.814 L386.48 274.238 L386.50 273.662 L386.51 273.086 L386.52 272.510 L386.53 271.933 L386.54 271.356 L386.56 270.779 L386.57 270.202 L386.58 269.625 L386.60 269.047 L386.61 268.469 L386.63 267.890 L386.64 267.312 L386.65 266.733 L386.67 266.154 L386.68 265.575 L386.70 264.995 L386.72 264.415 L386.73 263.835 L386.75 263.254 L386.76 262.673 L386.78 262.092 L386.80 261.510 L386.82 260.928 L386.84 260.346 L386.85 259.763 L386.87 259.180 L386.89 258.597 L386.91 258.013 L386.93 257.429 L386.95 256.845 L386.97 256.260 L386.99 255.675 L387.02 255.089 L387.04 254.504 L387.06 253.917 L387.08 253.331 L387.11 252.745 L387.13 252.158 L387.15 251.571 L387.18 250.984 L387.20 250.397 L387.23 249.810 L387.25 249.223 L387.27 248.636 L387.30 248.049 L387.32 247.462 L387.35 246.875 L387.38 246.288 L387.40 245.701 L387.43 245.115 L387.45 244.529 L387.48 243.943 L387.51 243.357 L387.53 242.772 L387.56 242.187 L387.58 241.603 L387.61 241.019 L387.64 240.435 L387.66 239.852 L387.69 239.270 L387.72 238.688 L387.74 238.107 L387.77 237.526 L387.80 236.946 L387.82 236.366 L387.85 235.788 L387.87 235.210 L387.90 234.633 L387.92 234.056 L387.95 233.481 L387.98 232.906 L388.00 232.333 L388.03 231.760 L388.05 231.188 L388.08 230.617 L388.10 230.048 L388.12 229.479 L388.15 228.912 L388.17 228.345 L388.19 227.780 L388.22 227.216 L388.24 226.653 L388.26 226.092 L388.28 225.532 L388.31 224.973 L388.33 224.415 L388.35 223.859 L388.37 223.304 L388.39 222.751 L388.41 222.199 L388.43 221.649 L388.45 221.100 L388.46 220.553 L388.48 220.008 L388.50 219.464 L388.51 218.922 L388.53 218.382 L388.55 217.843 L388.56 217.306 L388.58 216.771 L388.59 216.236 L388.61 215.700 L388.62 215.163 L388.64 214.621 L388.66 214.074 L388.68 213.521 L388.70 212.960 L388.73 212.389 L388.77 211.808 L388.80 211.214 L388.85 210.607 L388.90 209.985 L388.95 209.346 L389.01 208.690 L389.08 208.014 L389.16 207.318 L389.25 206.599 L389.34 205.858 L389.45 205.100 L389.56 204.339 L389.68 203.585 L389.81 202.852 L389.95 202.151 L390.10 201.495 L390.25 200.895 L390.41 200.364 L390.57 199.914 L390.75 199.556 L390.92 199.303 L391.11 199.168 L391.30 199.161 L391.49 199.283 L391.69 199.523 L391.88 199.869 L392.08 200.308 L392.28 200.828 L392.48 201.418 L392.68 202.066 L392.87 202.759 L393.05 203.485 L393.23 204.233 L393.41 204.990 L393.57 205.744 L393.73 206.484 L393.87 207.200 L394.00 207.894 L394.13 208.565 L394.24 209.217 L394.35 209.850 L394.45 210.466 L394.54 211.066 L394.63 211.653 L394.71 212.226 L394.78 212.789 L394.85 213.342 L394.92 213.887 L394.98 214.425 L395.04 214.958 L395.09 215.487 L395.15 216.015 L395.20 216.542 L395.26 217.069 L395.31 217.599 L395.36 218.132 L395.42 218.667 L395.47 219.204 L395.52 219.744 L395.58 220.286 L395.63 220.831 L395.69 221.378 L395.74 221.927 L395.80 222.478 L395.85 223.032 L395.91 223.587 L395.96 224.144 L396.02 224.703 L396.08 225.265 L396.13 225.827 L396.19 226.392 L396.25 226.958 L396.31 227.526 L396.37 228.095 L396.42 228.666 L396.48 229.238 L396.54 229.812 L396.60 230.387 L396.66 230.963 L396.72 231.541 L396.79 232.119 L396.85 232.699 L396.91 233.279 L396.97 233.861 L397.03 234.443 L397.10 235.027 L397.16 235.611 L397.23 236.196 L397.29 236.781 L397.36 237.367 L397.42 237.954 L397.49 238.541 L397.56 239.128 L397.62 239.716 L397.69 240.304 L397.76 240.893 L397.83 241.481 L397.90 242.070 L397.97 242.659 L398.04 243.247 L398.12 243.836 L398.19 244.425 L398.26 245.013 L398.34 245.601 L398.41 246.189 L398.48 246.777 L398.56 247.364 L398.64 247.951 L398.72 248.537 L398.79 249.123 L398.87 249.708 L398.95 250.292 L399.03 250.875 L399.11 251.458 L399.20 252.040 L399.28 252.621 L399.36 253.201 L399.45 253.779 L399.53 254.357 L399.62 254.934 L399.70 255.509 L399.79 256.083 L399.88 256.655 L399.97 257.227 L400.06 257.797 L400.15 258.365 L400.24 258.933 L400.34 259.500 L400.43 260.065 L400.52 260.630 L400.62 261.194 L400.71 261.758 L400.81 262.321 L400.91 262.883 L401.00 263.446 L401.10 264.008 L401.20 264.570 L401.30 265.132 L401.40 265.694 L401.50 266.256 L401.60 266.818 L401.70 267.381 L401.80 267.944 L401.90 268.508 L402.00 269.073 L402.10 269.638 L402.20 270.204 L402.30 270.771 L402.41 271.339 L402.51 271.907 L402.61 272.477 L402.71 273.046 L402.82 273.617 L402.92 274.188 L403.02 274.760 L403.13 275.332 L403.23 275.905 L403.34 276.478 L403.44 277.052 L403.55 277.626 L403.66 278.200 L403.76 278.775 L403.87 279.350 L403.98 279.926 L404.09 280.501 L404.20 281.077 L404.31 281.653 L404.42 282.230 L404.53 282.806 L404.64 283.382 L404.75 283.959 L404.86 284.536 L404.98 285.112 L405.09 285.689 L405.21 286.265 L405.32 286.842 L405.44 287.418 L405.55 287.994 L405.67 288.570 L405.79 289.145 L405.91 289.721 L406.03 290.296 L406.15 290.871 L406.27 291.445 L406.39 292.019 L406.52 292.593 L406.64 293.166 L406.77 293.738 L406.89 294.311 L407.02 294.882 L407.15 295.453 L407.28 296.023 L407.41 296.593 L407.54 297.162 L407.67 297.731 L407.80 298.298 L407.94 298.865 L408.07 299.431 L408.21 299.996 L408.35 300.560 L408.49 301.124 L408.63 301.686 L408.77 302.248 L408.91 302.808 L409.05 303.368 L409.20 303.926 L409.34 304.483 L409.49 305.040 L409.64 305.595 L409.80 306.150 L409.95 306.704 L410.11 307.257 L410.28 307.809 L410.44 308.361 L410.62 308.911 L410.79 309.462 L410.97 310.011 L411.16 310.560 L411.35 311.108 L411.55 311.656 L411.75 312.203 L411.96 312.750 L412.18 313.296 L412.40 313.842 L412.64 314.388 L412.87 314.933 L413.12 315.478 L413.38 316.023 L413.64 316.567 L413.91 317.111 L414.19 317.654 L414.48 318.197 L414.78 318.739 L415.09 319.279 L415.40 319.818 L415.73 320.356 L416.06 320.892 L416.40 321.426 L416.75 321.958 L417.10 322.488 L417.47 323.015 L417.84 323.539 L418.23 324.061 L418.62 324.579 L419.02 325.094 L419.42 325.606 L419.84 326.115 L420.26 326.619 L420.69 327.119 L421.13 327.616 L421.58 328.108 L422.04 328.595 L422.50 329.077 L422.98 329.555 L423.46 330.028 L423.95 330.495 L424.44 330.956 L424.95 331.412 L425.46 331.862 L425.98 332.306 L426.51 332.744 L427.05 333.175 L427.59 333.600 L428.15 334.018 L428.71 334.428 L429.28 334.832 L429.85 335.228 L430.44 335.617 L431.03 335.997 L431.63 336.370 L432.24 336.735 L432.86 337.091 L433.48 337.439 L434.11 337.778 L434.75 338.108 L435.40 338.429 L436.05 338.741 L436.72 339.044 L437.38 339.338 L438.06 339.624 L438.74 339.900 L439.43 340.169 L440.13 340.429 L440.83 340.681 L441.54 340.925 L442.25 341.161 L442.97 341.390 L443.69 341.611 L444.42 341.824 L445.16 342.030 L445.90 342.229 L446.64 342.421 L447.39 342.606 L448.14 342.784 L448.89 342.955 L449.65 343.120 L450.42 343.278 L451.18 343.431 L451.95 343.577 L452.72 343.717 L453.49 343.851 L454.27 343.980 L455.05 344.103 L455.83 344.221 L456.61 344.333 L457.40 344.440 L458.18 344.543 L458.97 344.640 L459.75 344.732 L460.54 344.820 L461.33 344.904 L462.12 344.983 L462.91 345.058 L463.70 345.128 L464.49 345.195 L465.28 345.257 L466.07 345.315 L466.86 345.370 L467.66 345.421 L468.45 345.469 L469.24 345.513 L470.04 345.553 L470.83 345.591 L471.63 345.625 L472.42 345.656 L473.22 345.684 L474.01 345.709 L474.81 345.732 L475.61 345.752 L476.40 345.769 L477.20 345.784 L478.00 345.796 L478.79 345.806 L479.59 345.814 L480.39 345.820 L481.19 345.824 L481.99 345.827 L482.79 345.827 L483.59 345.826 L484.38 345.823 L485.18 345.819 L485.98 345.813 L486.78 345.807 L487.58 345.799 L488.38 345.790 L489.18 345.780 L489.98 345.769 L490.78 345.758 L491.58 345.746 L492.38 345.733 L493.18 345.720 L493.98 345.707 L494.78 345.694 L495.58 345.680 L496.38 345.667 L497.17 345.653 L497.97 345.640 L498.77 345.627 L499.57 345.614 L500.37 345.602 L501.17 345.591 L501.97 345.580 L502.76 345.570 L503.56 345.561 L504.36 345.553 L505.15 345.546 L505.95 345.540 L506.75 345.536 L507.54 345.533 L508.34 345.531 L509.13 345.531 L509.93 345.533 L510.72 345.537 L511.52 345.543 L512.31 345.551 L513.10 345.560 L513.90 345.572 L514.69 345.587 L515.48 345.604 L516.27 345.623 L517.06 345.645 L517.85 345.670 L518.64 345.698 L519.43 345.728 L520.22 345.762 L521.00 345.799 L521.79 345.839" fill="none" stroke="#0000f0" stroke-width="2.15" stroke-linejoin="round"/></g>
<path d="M521.66 479.10 L522.18 479.10 L522.69 479.10 L523.21 479.10 L523.72 479.10 L524.24 479.10 L524.75 479.10 L525.27 479.10 L525.79 479.10 L526.30 479.10 L526.82 479.10 L527.33 479.10 L527.85 479.10 L528.36 479.10 L528.88 479.10 L529.39 479.10 L529.91 479.10 L530.42 479.10 L530.94 479.10 L531.45 479.10 L531.97 479.10 L532.48 479.10 L533.00 479.10 L533.51 479.10 L534.03 479.10 L534.54 479.10 L535.06 479.10 L535.58 479.10 L536.09 479.10 L536.61 479.10 L537.12 479.10 L537.64 479.10 L538.15 479.10 L538.67 479.10 L539.18 479.10 L539.70 479.10 L540.21 479.10 L540.73 479.10 L541.24 479.10 L541.76 479.10 L542.27 479.10 L542.79 479.10 L543.30 479.10 L543.82 479.10 L544.33 479.10 L544.85 479.10 L545.37 479.10 L545.88 479.10 L546.40 479.10 L546.91 479.10 L547.43 479.10 L547.94 479.10 L548.46 479.10 L548.97 479.10 L549.49 479.10 L550.00 479.10 L550.52 479.10 L551.03 479.10 L551.55 479.10 L552.06 479.10 L552.58 479.10 L553.09 479.10 L553.61 479.10 L554.12 479.10 L554.64 479.10 L555.16 479.10 L555.67 479.10 L556.19 479.10 L556.70 479.10 L557.22 479.09 L557.73 479.09 L558.25 479.09 L558.76 479.09 L559.28 479.09 L559.79 479.09 L560.31 479.09 L560.82 479.08 L561.34 479.08 L561.85 479.08 L562.37 479.07 L562.88 479.07 L563.40 479.07 L563.92 479.06 L564.43 479.06 L564.95 479.05 L565.46 479.05 L565.98 479.04 L566.49 479.03 L567.01 479.03 L567.52 479.02 L568.04 479.01 L568.55 479.00 L569.07 478.99 L569.58 478.98 L570.10 478.96 L570.61 478.95 L571.13 478.93 L571.64 478.91 L572.16 478.90 L572.67 478.87 L573.19 478.85 L573.71 478.83 L574.22 478.80 L574.74 478.77 L575.25 478.74 L575.77 478.71 L576.28 478.67 L576.80 478.63 L577.31 478.59 L577.83 478.55 L578.34 478.50 L578.86 478.45 L579.37 478.39 L579.89 478.33 L580.40 478.27 L580.92 478.20 L581.43 478.13 L581.95 478.05 L582.46 477.97 L582.98 477.88 L583.50 477.79 L584.01 477.69 L584.53 477.58 L585.04 477.47 L585.56 477.35 L586.07 477.23 L586.59 477.09 L587.10 476.95 L587.62 476.81 L588.13 476.65 L588.65 476.49 L589.16 476.32 L589.68 476.14 L590.19 475.96 L590.71 475.76 L591.22 475.56 L591.74 475.35 L592.25 475.12 L592.77 474.89 L593.29 474.65 L593.80 474.41 L594.32 474.15 L594.83 473.88 L595.35 473.61 L595.86 473.32 L596.38 473.03 L596.89 472.73 L597.41 472.42 L597.92 472.10 L598.44 471.77 L598.95 471.44 L599.47 471.09 L599.98 470.74 L600.50 470.39 L601.01 470.02 L601.53 469.66 L602.04 469.28 L602.56 468.90 L603.08 468.52 L603.59 468.13 L604.11 467.74 L604.62 467.35 L605.14 466.96 L605.65 466.56 L606.17 466.16 L606.68 465.77 L607.20 465.37 L607.71 464.98 L608.23 464.59 L608.74 464.21 L609.26 463.83 L609.77 463.45 L610.29 463.08 L610.80 462.72 L611.32 462.37 L611.84 462.02 L612.35 461.69 L612.87 461.36 L613.38 461.05 L613.90 460.75 L614.41 460.46 L614.93 460.19 L615.44 459.93 L615.96 459.68 L616.47 459.46 L616.99 459.24 L617.50 459.05 L618.02 458.87 L618.53 458.71 L619.05 458.57 L619.56 458.45 L620.08 458.35 L620.59 458.27 L621.11 458.21 L621.63 458.17 L622.14 458.15 L622.66 458.15 L623.17 458.16 L623.69 458.19 L624.20 458.24 L624.72 458.30 L625.23 458.37 L625.75 458.46 L626.26 458.57 L626.78 458.69 L627.29 458.82 L627.81 458.97 L628.32 459.13 L628.84 459.30 L629.35 459.49 L629.87 459.69 L630.38 459.90 L630.90 460.12 L631.42 460.36 L631.93 460.60 L632.45 460.86 L632.96 461.12 L633.48 461.40 L633.99 461.68 L634.51 461.97 L635.02 462.27 L635.54 462.57 L636.05 462.88 L636.57 463.20 L637.08 463.52 L637.60 463.85 L638.11 464.18 L638.63 464.52 L639.14 464.85 L639.66 465.19 L640.17 465.54 L640.69 465.88 L641.21 466.22 L641.72 466.57 L642.24 466.91 L642.75 467.25 L643.27 467.59 L643.78 467.93 L644.30 468.27 L644.81 468.61 L645.33 468.94 L645.84 469.27 L646.36 469.60 L646.87 469.92 L647.39 470.23 L647.90 470.55 L648.42 470.85 L648.93 471.16 L649.45 471.45 L649.96 471.74 L650.48 472.03 L651.00 472.31 L651.51 472.58 L652.03 472.85 L652.54 473.11 L653.06 473.36 L653.57 473.61 L654.09 473.85 L654.60 474.08 L655.12 474.31 L655.63 474.53 L656.15 474.74 L656.66 474.95 L657.18 475.14 L657.69 475.34 L658.21 475.52 L658.72 475.70 L659.24 475.87 L659.76 476.04 L660.27 476.20 L660.79 476.35 L661.30 476.50 L661.82 476.64 L662.33 476.77 L662.85 476.90 L663.36 477.03 L663.88 477.15 L664.39 477.26 L664.91 477.37 L665.42 477.47 L665.94 477.57 L666.45 477.66 L666.97 477.75 L667.48 477.83 L668.00 477.91 L668.51 477.99 L669.03 478.06 L669.55 478.12 L670.06 478.19 L670.58 478.25 L671.09 478.31 L671.61 478.36 L672.12 478.41 L672.64 478.46 L673.15 478.50 L673.67 478.54 L674.18 478.58 L674.70 478.62 L675.21 478.66 L675.73 478.69" fill="none" stroke="#f00000" stroke-width="2.4" stroke-linejoin="round"/>
<rect x="384.00" y="267.20" width="292.90" height="213.30" fill="none" stroke="#000" stroke-width="2.4"/>
<path d="M413.29 480.50 v-4.2 M442.58 480.50 v-4.2 M471.87 480.50 v-4.2 M501.16 480.50 v-4.2 M530.45 480.50 v-4.2 M559.74 480.50 v-4.2 M589.03 480.50 v-4.2 M618.32 480.50 v-4.2 M647.61 480.50 v-4.2 M398.64 480.50 v-2.8 M427.94 480.50 v-2.8 M457.23 480.50 v-2.8 M486.51 480.50 v-2.8 M515.81 480.50 v-2.8 M545.10 480.50 v-2.8 M574.38 480.50 v-2.8 M603.67 480.50 v-2.8 M632.97 480.50 v-2.8 M662.25 480.50 v-2.8 M384.00 437.10 h4.2 M384.00 394.50 h4.2 M384.00 351.90 h4.2 M384.00 309.30 h4.2 M384.00 458.40 h2.8 M384.00 415.80 h2.8 M384.00 373.20 h2.8 M384.00 330.60 h2.8 M384.00 288.00 h2.8" stroke="#000" stroke-width="1.7" fill="none"/>
<g fill="#000" opacity="0.999"><text x="3.3" y="13.1" font-size="15" font-weight="bold" text-anchor="start" >(a)</text>
<text x="345.0" y="15.5" font-size="15" font-weight="bold" text-anchor="start" >(b)</text>
<text x="3.3" y="256.5" font-size="15" font-weight="bold" text-anchor="start" >(c)</text>
<text x="343.8" y="256.0" font-size="15.3" font-weight="bold" text-anchor="start" >(d)</text>
<text x="34.8" y="218.2" font-size="10.5" font-weight="bold" text-anchor="end" >0</text>
<text x="34.8" y="170.7" font-size="10.5" font-weight="bold" text-anchor="end" >100</text>
<text x="34.8" y="123.2" font-size="10.5" font-weight="bold" text-anchor="end" >200</text>
<text x="34.8" y="75.7" font-size="10.5" font-weight="bold" text-anchor="end" >300</text>
<text x="34.8" y="28.2" font-size="10.5" font-weight="bold" text-anchor="end" >400</text>
<text x="39.2" y="226.2" font-size="10.5" font-weight="bold" text-anchor="middle" >0</text>
<text x="112.2" y="226.2" font-size="10.5" font-weight="bold" text-anchor="middle" >1</text>
<text x="185.1" y="226.2" font-size="10.5" font-weight="bold" text-anchor="middle" >2</text>
<text x="258.1" y="226.2" font-size="10.5" font-weight="bold" text-anchor="middle" >3</text>
<text x="331.0" y="226.2" font-size="10.5" font-weight="bold" text-anchor="middle" >4</text>
<text x="185" y="243.8" font-size="12" font-weight="bold" text-anchor="middle">Radius (10<tspan font-size="7" dy="-4.5">-1</tspan><tspan dy="4.5"> mm)</tspan></text>
<text transform="translate(9.4,135.7) rotate(-90)" font-size="11.5" font-weight="bold" textLength="33.3" lengthAdjust="spacing">Count</text>
<text x="382.6" y="221.1" font-size="10.5" font-weight="bold" text-anchor="end" >0</text>
<text x="382.6" y="167.9" font-size="10.5" font-weight="bold" text-anchor="end" >50</text>
<text x="382.6" y="114.7" font-size="10.5" font-weight="bold" text-anchor="end" >100</text>
<text x="382.6" y="61.5" font-size="10.5" font-weight="bold" text-anchor="end" >150</text>
<text x="382.6" y="8.3" font-size="10.5" font-weight="bold" text-anchor="end" >200</text>
<text x="387.0" y="229.5" font-size="10.5" font-weight="bold" text-anchor="middle" >0</text>
<text x="445.4" y="229.5" font-size="10.5" font-weight="bold" text-anchor="middle" >2</text>
<text x="474.5" y="229.5" font-size="10.5" font-weight="bold" text-anchor="middle" >3</text>
<text x="503.7" y="229.5" font-size="10.5" font-weight="bold" text-anchor="middle" >4</text>
<text x="532.9" y="229.5" font-size="10.5" font-weight="bold" text-anchor="middle" >5</text>
<text x="562.1" y="229.5" font-size="10.5" font-weight="bold" text-anchor="middle" >6</text>
<text x="591.3" y="229.5" font-size="10.5" font-weight="bold" text-anchor="middle" >7</text>
<text x="620.4" y="229.5" font-size="10.5" font-weight="bold" text-anchor="middle" >8</text>
<text x="649.6" y="229.5" font-size="10.5" font-weight="bold" text-anchor="middle" >9</text>
<text x="678.8" y="229.5" font-size="10.5" font-weight="bold" text-anchor="middle" >10</text>
<text x="532.4" y="243.7" font-size="12" font-weight="bold" text-anchor="middle">Radius (10<tspan font-size="7" dy="-4.5">-1</tspan><tspan dy="4.5"> mm)</tspan></text>
<text transform="translate(357.7,127.4) rotate(-90)" font-size="11.5" font-weight="bold" textLength="33.8" lengthAdjust="spacing">Count</text>
<text x="32.0" y="485.6" font-size="10.5"  text-anchor="end" >0</text>
<text x="32.0" y="442.9" font-size="10.5"  text-anchor="end" >50</text>
<text x="32.0" y="400.2" font-size="10.5"  text-anchor="end" >100</text>
<text x="32.0" y="357.5" font-size="10.5"  text-anchor="end" >150</text>
<text x="32.0" y="314.8" font-size="10.5"  text-anchor="end" >200</text>
<text x="32.0" y="272.1" font-size="10.5"  text-anchor="end" >250</text>
<text x="35.6" y="493.5" font-size="10.5"  text-anchor="middle" >0</text>
<text x="64.8" y="493.5" font-size="10.5"  text-anchor="middle" >1</text>
<text x="94.0" y="493.5" font-size="10.5"  text-anchor="middle" >2</text>
<text x="123.1" y="493.5" font-size="10.5"  text-anchor="middle" >3</text>
<text x="152.3" y="493.5" font-size="10.5"  text-anchor="middle" >4</text>
<text x="181.5" y="493.5" font-size="10.5"  text-anchor="middle" >5</text>
<text x="210.7" y="493.5" font-size="10.5"  text-anchor="middle" >6</text>
<text x="239.9" y="493.5" font-size="10.5"  text-anchor="middle" >7</text>
<text x="269.0" y="493.5" font-size="10.5"  text-anchor="middle" >8</text>
<text x="298.2" y="493.5" font-size="10.5"  text-anchor="middle" >9</text>
<text x="327.4" y="493.5" font-size="10.5"  text-anchor="middle" >10</text>
<text x="136.1" y="509.5" font-size="12" textLength="92.4" lengthAdjust="spacing">Radius (10<tspan font-size="7" dy="-4.5">-1</tspan><tspan dy="4.5"> mm)</tspan></text>
<text transform="translate(9.4,390.4) rotate(-90)" font-size="11" textLength="29.8" lengthAdjust="spacing">Count</text>
<text x="379.4" y="482.7" font-size="10.5"  text-anchor="end" >0</text>
<text x="379.4" y="440.1" font-size="10.5"  text-anchor="end" >50</text>
<text x="379.4" y="397.5" font-size="10.5"  text-anchor="end" >100</text>
<text x="379.4" y="354.9" font-size="10.5"  text-anchor="end" >150</text>
<text x="379.4" y="312.3" font-size="10.5"  text-anchor="end" >200</text>
<text x="379.4" y="269.7" font-size="10.5"  text-anchor="end" >250</text>
<text x="383.0" y="491.5" font-size="10.5"  text-anchor="middle" >0</text>
<text x="412.3" y="491.5" font-size="10.5"  text-anchor="middle" >1</text>
<text x="441.6" y="491.5" font-size="10.5"  text-anchor="middle" >2</text>
<text x="470.9" y="491.5" font-size="10.5"  text-anchor="middle" >3</text>
<text x="500.2" y="491.5" font-size="10.5"  text-anchor="middle" >4</text>
<text x="529.5" y="491.5" font-size="10.5"  text-anchor="middle" >5</text>
<text x="558.7" y="491.5" font-size="10.5"  text-anchor="middle" >6</text>
<text x="588.0" y="491.5" font-size="10.5"  text-anchor="middle" >7</text>
<text x="617.3" y="491.5" font-size="10.5"  text-anchor="middle" >8</text>
<text x="646.6" y="491.5" font-size="10.5"  text-anchor="middle" >9</text>
<text x="675.9" y="491.5" font-size="10.5"  text-anchor="middle" >10</text>
<text x="483.6" y="511" font-size="12" textLength="91.8" lengthAdjust="spacing">Radius (10<tspan font-size="7" dy="-4.5">-1</tspan><tspan dy="4.5"> mm)</tspan></text>
<text transform="translate(356.8,388.4) rotate(-90)" font-size="11" textLength="29.8" lengthAdjust="spacing">Count</text>
<rect x="209.7" y="8.8" width="25.2" height="12.0" fill="url(#lA)" stroke="#222" stroke-width="0.9"/>
<rect x="219.9" y="29.0" width="4.6" height="4.6" fill="#000"/>
<text x="238.4" y="18.0" font-size="11" textLength="51.5" lengthAdjust="spacing">Gypsum_1</text>
<text x="238.4" y="34.0" font-size="11" textLength="33.9" lengthAdjust="spacing">Counts</text>
<text x="238.4" y="47.7" font-size="11" textLength="65.1" lengthAdjust="spacing">LogNormal fit</text>
<path d="M209.3 44.5 H234.9" stroke="#0000f0" stroke-width="2.4" fill="none"/>
<rect x="541.8" y="9.3" width="24.9" height="12.2" fill="url(#lA)" stroke="#222" stroke-width="0.9"/>
<rect x="552.5" y="27.2" width="4.6" height="4.6" fill="#000"/>
<text x="569.4" y="18.8" font-size="11" textLength="53.0" lengthAdjust="spacing">Gypsum_2</text>
<text x="569.4" y="33.0" font-size="11" textLength="34.4" lengthAdjust="spacing">Counts</text>
<text x="569.4" y="45.8" font-size="11" textLength="99.5" lengthAdjust="spacing">LogNormal fit for AB</text>
<path d="M541.2 42.7 H568.2" stroke="#0000f0" stroke-width="2.4" fill="none"/>
<text x="569.4" y="59.5" font-size="11" textLength="107.2" lengthAdjust="spacing">LogNormal fit for EPS</text>
<path d="M541.2 56.6 H568.2" stroke="#f00000" stroke-width="2.4" fill="none"/>
<rect x="191.2" y="272.7" width="25.0" height="11.5" fill="url(#lC)" stroke="#222" stroke-width="0.9"/>
<rect x="201.8" y="290.0" width="4.6" height="4.6" fill="#000"/>
<text x="219.0" y="281.8" font-size="11" textLength="53.0" lengthAdjust="spacing">Gypsum_3</text>
<text x="219.0" y="295.8" font-size="11" textLength="29.6" lengthAdjust="spacing">Count</text>
<text x="219.0" y="308.6" font-size="11" textLength="100.4" lengthAdjust="spacing">LogNormal fit for AB</text>
<path d="M191.2 306.4 H217.4" stroke="#0000f0" stroke-width="2.4" fill="none"/>
<text x="219.0" y="322.0" font-size="11" textLength="107.4" lengthAdjust="spacing">LogNormal fit for EPS</text>
<path d="M191.2 319.2 H217.4" stroke="#f00000" stroke-width="2.4" fill="none"/>
<rect x="540.2" y="269.7" width="25.7" height="12.2" fill="url(#lA)" stroke="#222" stroke-width="0.9"/>
<rect x="551.9" y="286.1" width="4.6" height="4.6" fill="#000"/>
<text x="569.2" y="278.8" font-size="11" textLength="51.4" lengthAdjust="spacing">Gypsum_5</text>
<text x="569.2" y="292.3" font-size="11" textLength="29.2" lengthAdjust="spacing">Count</text>
<text x="569.2" y="305.2" font-size="11" textLength="95.8" lengthAdjust="spacing">LogNormal fit of AB</text>
<path d="M540.2 302.2 H568.2" stroke="#0000f0" stroke-width="2.4" fill="none"/>
<text x="569.2" y="318.1" font-size="11" textLength="103.3" lengthAdjust="spacing">LogNormal fit of EPS</text>
<path d="M540.2 315.3 H568.2" stroke="#f00000" stroke-width="2.4" fill="none"/></g>
</svg>
</body></html>
